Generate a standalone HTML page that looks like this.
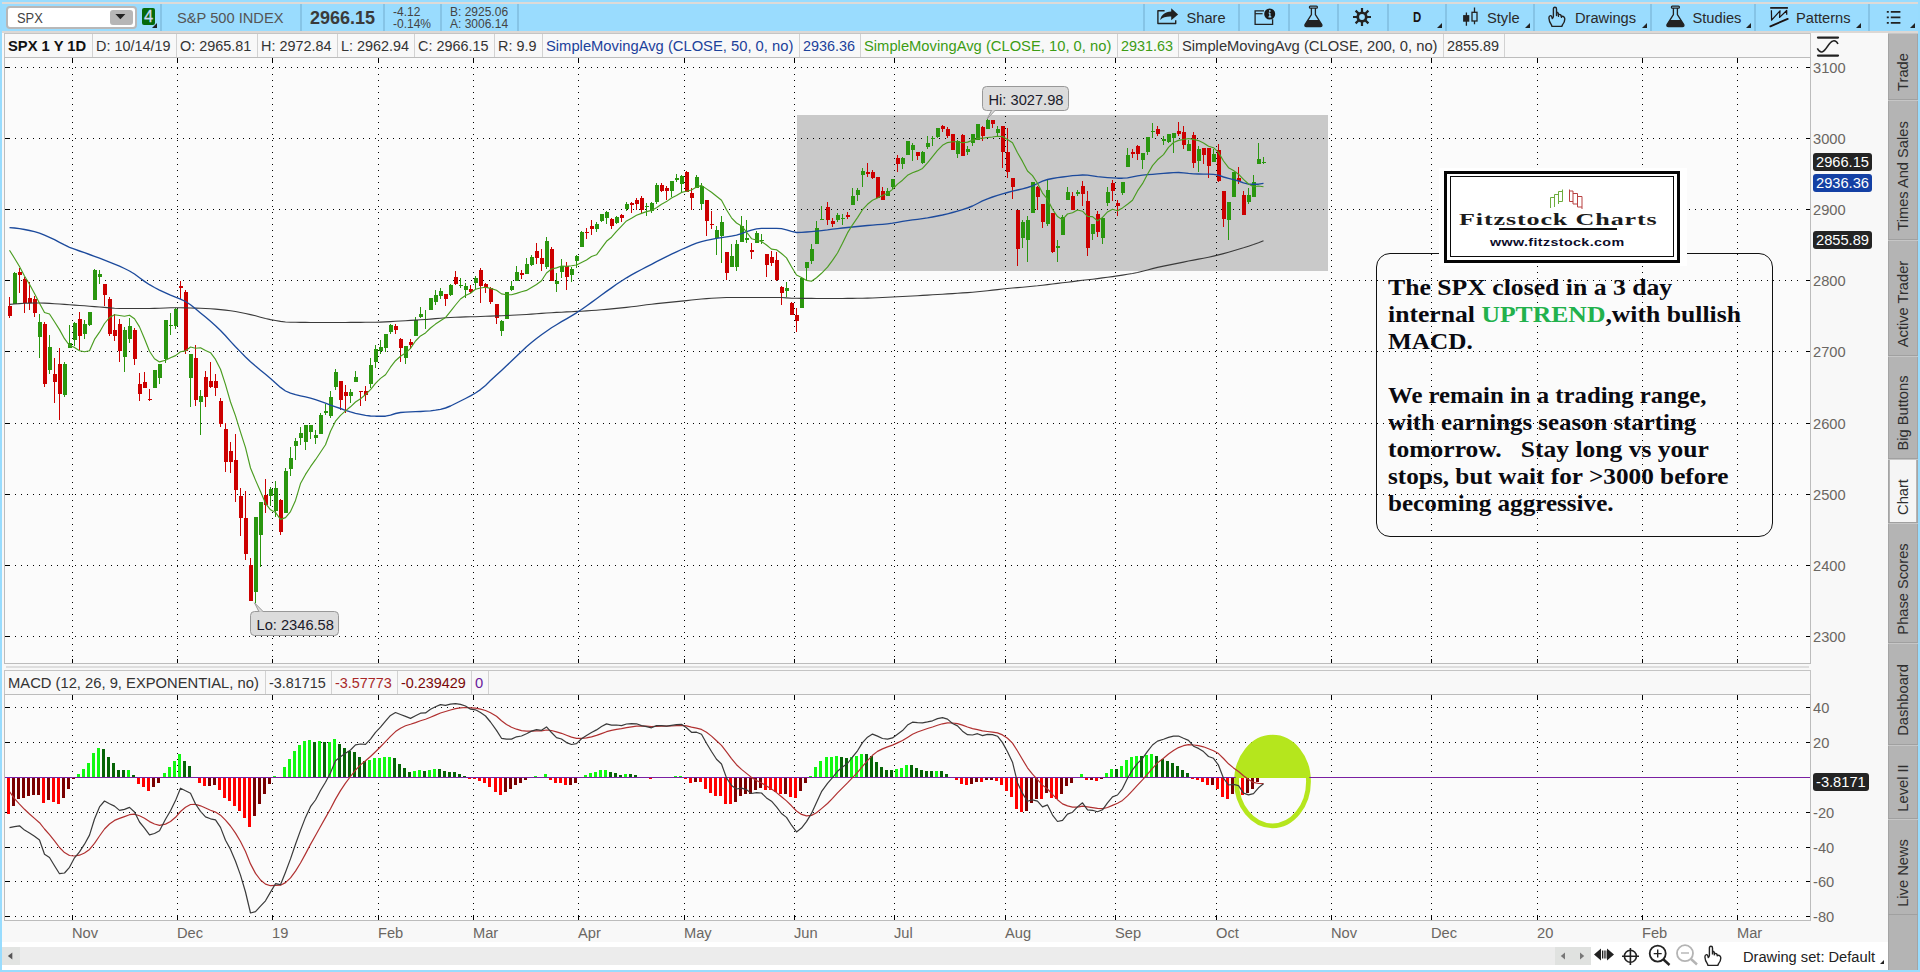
<!DOCTYPE html>
<html><head><meta charset="utf-8"><title>SPX</title>
<style>
*{box-sizing:border-box;margin:0;padding:0}
html,body{width:1920px;height:972px;overflow:hidden}
body{background:#98dcfe;font-family:"Liberation Sans",sans-serif;font-size:14.67px;color:#333;position:relative}
.abs{position:absolute}
#topline{left:2px;top:2px;width:1916px;height:2px;background:#dedad7}
#tbline{left:2px;top:31px;width:1916px;height:2px;background:#dcd8d5}
#toolbar{left:2px;top:4px;width:1916px;height:27px;background:#9adcfe}
.sep{position:absolute;top:4px;width:2px;height:27px;background:#86c4e6}
.tt{position:absolute;top:4.5px;height:27px;line-height:27px;font-size:14.67px;color:#2a2a2a;white-space:nowrap}
.tri{position:absolute;width:0;height:0;border-left:5px solid transparent;border-bottom:5px solid #222;top:23px}
#panel{left:2px;top:33px;width:1886px;height:937px;background:#f8f8f8}
#info{left:4px;top:33px;width:1807px;height:25px;background:#f8f8f8;border:1px solid #c4c4c4}
.cell{position:absolute;top:34px;height:23px;line-height:24.4px;padding-left:3px;border-left:1px solid #d2d2d2;white-space:nowrap;font-size:14.75px;color:#333}
#pbox{left:4px;top:57px;width:1807px;height:607px;background:#fbfbfb;border:1px solid #bcbcbc}
#split{left:6px;top:666px;width:1803px;height:2px;background:#dedede}
#mhead{left:4px;top:670px;width:1807px;height:25px;background:#f8f8f8;border:1px solid #c4c4c4}
#mbox{left:4px;top:694px;width:1807px;height:227px;background:#fbfbfb;border:1px solid #bcbcbc}
.ax{position:absolute;font-size:14.67px;line-height:18px;color:#6a6662;white-space:nowrap}
#bottom{left:2px;top:942px;width:1886px;height:28px;background:#fff}
#scroll{left:2px;top:947px;width:1589px;height:18px;background:#ececec}
#sidebar{left:1888px;top:33px;width:30px;height:937px;background:#b4b4b4;border-left:1.5px solid #a4a4a4;border-right:1.5px solid #a4a4a4}
.tab{position:absolute;left:1888px;width:30px;border-top:1px solid #c6c6c6;border-bottom:1px solid #a0a0a0}
.tab span{position:absolute;left:15px;top:calc(50% + 6px);transform:translate(-50%,-50%) rotate(-90deg);white-space:nowrap;font-size:14.67px;color:#2e2e2e;display:block}
.badge{position:absolute;left:1813px;height:18px;line-height:18px;border-radius:3px;color:#fff;font-size:14.67px;padding-left:3px;white-space:nowrap}
.dot{stroke:#000;stroke-width:1;stroke-dasharray:1 5;fill:none}
.tk{stroke:#000;stroke-width:1;fill:none}
#note{left:1376px;top:253px;width:397px;height:284px;border:1px solid #111;border-radius:14px}
.nl{position:absolute;left:1388px;font-family:"Liberation Serif",serif;font-weight:bold;font-size:23px;line-height:27px;color:#0a0a10;white-space:nowrap;transform-origin:0 0}
.callout{position:absolute;background:#dcdcdc;border:1px solid #989898;border-radius:4.5px;font-size:14.67px;color:#1a1a2a;line-height:22px;height:24.6px;padding-left:5.5px;padding-top:2.4px;white-space:nowrap}
</style></head><body>
<div id="topline" class="abs"></div>
<div id="toolbar" class="abs"></div>
<div id="tbline" class="abs"></div>

<!-- toolbar content -->
<div class="abs" style="left:6px;top:6px;width:131px;height:23px;background:#fff;border:2px solid #b8b8b8;border-radius:4px"></div>
<div class="abs" style="left:17px;top:7px;font-size:15px;line-height:21px;color:#444;transform:scaleX(.86);transform-origin:0 50%">SPX</div>
<div class="abs" style="left:110px;top:10px;width:23px;height:15px;background:#b6b6b6;border-radius:3px"></div>
<svg class="abs" style="left:110px;top:10px" width="23" height="15"><path d="M5.4 4H15.4L10.4 9.2Z" fill="#222"/></svg>
<div class="abs" style="left:142px;top:8px;width:13px;height:17px;background:#05690a;border-radius:2px;color:#ccd8fa;font-weight:normal;font-size:16.5px;line-height:17.5px;text-align:center;overflow:visible;-webkit-text-stroke:.3px #ccd8fa"><span style="display:block;margin-left:-2px;width:17px;text-align:center">4</span></div>
<div class="tri" style="left:152px"></div>
<div class="sep" style="left:160px"></div>
<div class="tt" style="left:177px;color:#555">S&amp;P 500 INDEX</div>
<div class="sep" style="left:300px"></div>
<div class="tt" style="left:310px;font-weight:bold;font-size:18px;color:#3a3a3a">2966.15</div>
<div class="sep" style="left:383px"></div>
<div class="tt" style="left:393px;top:6.3px;height:13px;line-height:13px;font-size:12px;color:#444">-4.12</div>
<div class="tt" style="left:393px;top:18px;height:13px;line-height:13px;font-size:12px;color:#444">-0.14%</div>
<div class="sep" style="left:440px"></div>
<div class="tt" style="left:450px;top:6.3px;height:13px;line-height:13px;font-size:12px;color:#444">B: 2925.06</div>
<div class="tt" style="left:450px;top:18px;height:13px;line-height:13px;font-size:12px;color:#444">A: 3006.14</div>
<div class="sep" style="left:517px"></div>

<div class="sep" style="left:1143px"></div>
<svg class="abs" style="left:1156px;top:7px" width="24" height="20" viewBox="0 0 24 20"><path d="M8.6 3.8H1.9V16.5H19.7V13.2" fill="none" stroke="#222" stroke-width="1.4" stroke-linejoin="round"/><path d="M15.2 1.2L22.1 7.4L15.2 13.2V9.6C10.5 9.4 7 10.3 4.2 13C5 8 9 4.8 15.2 4.5Z" fill="#222"/></svg>
<div class="tt" style="left:1186.5px">Share</div>
<div class="sep" style="left:1238px"></div>
<svg class="abs" style="left:1254px;top:7px" width="24" height="20" viewBox="0 0 24 20"><path d="M10 3.8H1.1V17.3H18.6V12.2" fill="none" stroke="#222" stroke-width="1.3"/><path d="M1.1 6.7H8.6" stroke="#222" stroke-width="1.2"/><circle cx="15.7" cy="7" r="5.5" fill="#1a1a1a"/><path d="M15.9 6V9.8M14.7 6.2H15.9M14.5 9.9H17.3" stroke="#9adcfe" stroke-width="1.2" fill="none"/><circle cx="15.8" cy="3.9" r=".85" fill="#9adcfe"/></svg>
<div class="sep" style="left:1288px"></div>
<svg class="abs flask" style="left:1303px;top:5.1px" width="22" height="23" viewBox="0 0 22 23"><rect x="6.4" y="1.2" width="8" height="1.9" rx=".9" fill="none" stroke="#222" stroke-width="1.2"/><path d="M8.4 3V9.6L2 19.6Q1.4 21.5 3.4 21.5H17.4Q19.4 21.5 18.8 19.6L12.4 9.6V3" fill="none" stroke="#222" stroke-width="1.3" stroke-linejoin="round"/><path d="M5 14.9H15.8L18.8 19.6Q19.4 21.5 17.4 21.5H3.4Q1.4 21.5 2 19.6Z" fill="#222"/></svg>
<div class="sep" style="left:1337px"></div>
<svg class="abs" style="left:1352px;top:7px" width="20" height="20" viewBox="-10 -10 20 20"><g stroke="#222" stroke-width="2.2"><path d="M0 -9V9M-9 0H9M-6.4 -6.4L6.4 6.4M-6.4 6.4L6.4 -6.4"/></g><circle r="5.6" fill="#222"/><circle r="2.9" fill="#9adcfe"/></svg>
<div class="sep" style="left:1387px"></div>
<div class="tt" style="left:1412.6px;top:3.8px;font-weight:bold;font-size:14.2px;color:#1a1212;transform:scaleX(.8);transform-origin:0 50%">D</div>
<div class="tri" style="left:1437px"></div>
<div class="sep" style="left:1445px"></div>
<svg class="abs" style="left:1461px;top:6px" width="18" height="22" viewBox="0 0 18 22"><path d="M5.4 6.6V19.7M13.5 1.5V6.2M13.5 15V18.3" stroke="#222" stroke-width="1.3"/><rect x="2.1" y="9.1" width="6.2" height="6.6" fill="#222"/><rect x="11" y="6.3" width="5" height="8.7" fill="none" stroke="#222" stroke-width="1.3"/></svg>
<div class="tt" style="left:1487px">Style</div>
<div class="tri" style="left:1525px"></div>
<div class="sep" style="left:1533px"></div>
<svg class="abs hand" style="left:1547px;top:6px" width="20" height="22" viewBox="0 0 20 22"><path d="M6.4 10.5V3Q6.4 1.3 7.95 1.3Q9.5 1.3 9.5 3V9.6M9.5 6.4Q10.6 6 11.2 7.2L11.5 10.4M11.4 8.6Q12.8 8 13.8 9L14.5 11.4M14.4 10.6Q15.8 9.9 17 11Q17.8 11.8 17.8 13Q17.8 16 15.6 18.6L14.8 20.4H5L4.4 18.8Q2 15.5 1.9 12Q1.9 9.8 3.4 9.6Q4.6 9.5 4.9 11L5.3 12.6Q6.2 11.8 6.4 10.5" fill="none" stroke="#222" stroke-width="1.4" stroke-linejoin="round" stroke-linecap="round"/></svg>
<div class="tt" style="left:1575px">Drawings</div>
<div class="tri" style="left:1642px"></div>
<div class="sep" style="left:1650px"></div>
<svg class="abs flask" style="left:1664.5px;top:5.1px" width="22" height="23" viewBox="0 0 22 23"><rect x="6.4" y="1.2" width="8" height="1.9" rx=".9" fill="none" stroke="#222" stroke-width="1.2"/><path d="M8.4 3V9.6L2 19.6Q1.4 21.5 3.4 21.5H17.4Q19.4 21.5 18.8 19.6L12.4 9.6V3" fill="none" stroke="#222" stroke-width="1.3" stroke-linejoin="round"/><path d="M5 14.9H15.8L18.8 19.6Q19.4 21.5 17.4 21.5H3.4Q1.4 21.5 2 19.6Z" fill="#222"/></svg>
<div class="tt" style="left:1692.5px">Studies</div>
<div class="tri" style="left:1746px"></div>
<div class="sep" style="left:1754px"></div>
<svg class="abs" style="left:1769px;top:5px" width="20" height="23" viewBox="0 0 20 23"><path d="M1.2 2.9H18.9" stroke="#1a1212" stroke-width="1.7"/><path d="M2.4 5.3L2.6 15.2L11 5.8L10.6 12.4L17.7 5.5V9.7" fill="none" stroke="#1a1212" stroke-width="1.25" stroke-linejoin="round"/><path d="M1.4 21.3L18.7 13.9" stroke="#1a1212" stroke-width="1.9" stroke-linecap="round"/></svg>
<div class="tt" style="left:1796px">Patterns</div>
<div class="tri" style="left:1856px"></div>
<div class="sep" style="left:1868px"></div>
<svg class="abs" style="left:1886px;top:10px" width="16" height="15" viewBox="0 0 16 15"><path d="M.8 1.8H2.8M.8 7.3H2.8M.8 12.8H2.8M4.8 1.8H14.4M4.8 7.3H14.4M4.8 12.8H14.4" stroke="#222" stroke-width="1.7"/></svg>
<div class="tri" style="left:1910px"></div>

<!-- panel -->
<div id="panel" class="abs"></div>
<div id="info" class="abs"></div>
<div class="cell" style="left:4px;font-weight:bold;color:#111;border-left:none;padding-left:4px">SPX 1 Y 1D</div>
<div class="cell" style="left:92px;font-size:14.4px">D: 10/14/19</div>
<div class="cell" style="left:176px;font-size:14.4px">O: 2965.81</div>
<div class="cell" style="left:257px;font-size:14.4px">H: 2972.84</div>
<div class="cell" style="left:337px;font-size:14.4px">L: 2962.94</div>
<div class="cell" style="left:414px;font-size:14.4px">C: 2966.15</div>
<div class="cell" style="left:494px;font-size:14.4px">R: 9.9</div>
<div class="cell" style="left:542px;color:#1b419b">SimpleMovingAvg (CLOSE, 50, 0, no)</div>
<div class="cell" style="left:799px;color:#1b419b;font-size:14.4px">2936.36</div>
<div class="cell" style="left:860px;color:#3c9c14">SimpleMovingAvg (CLOSE, 10, 0, no)</div>
<div class="cell" style="left:1117px;color:#3c9c14;font-size:14.4px">2931.63</div>
<div class="cell" style="left:1178px">SimpleMovingAvg (CLOSE, 200, 0, no)</div>
<div class="cell" style="left:1443px;font-size:14.4px">2855.89</div>
<div class="cell" style="left:1504px"></div>

<div id="pbox" class="abs"></div>
<div id="split" class="abs"></div>
<div id="mhead" class="abs"></div>
<div class="cell" style="left:4px;top:671px;border-left:none;padding-left:4px">MACD (12, 26, 9, EXPONENTIAL, no)</div>
<div class="cell" style="left:265px;top:671px;font-size:14.4px">-3.81715</div>
<div class="cell" style="left:331px;top:671px;color:#a82828;font-size:14.4px">-3.57773</div>
<div class="cell" style="left:397px;top:671px;color:#7a0808;font-size:14.4px">-0.239429</div>
<div class="cell" style="left:471px;top:671px;color:#6a1a9a">0</div>
<div class="cell" style="left:488px;top:671px"></div>
<div id="mbox" class="abs"></div>

<!-- chart graphics -->
<svg class="abs" style="left:0;top:0" width="1920" height="972" viewBox="0 0 1920 972" shape-rendering="crispEdges">
<rect x="797" y="115" width="531" height="156" fill="#c9c9c9"/>
<g>
<path d="M72.5 68V659" class="dot"/><path d="M72.5 58V63M72.5 659V663" class="tk"/>
<path d="M72.5 705V916" class="dot"/><path d="M72.5 695V700M72.5 916V920" class="tk"/>
<path d="M177.5 68V659" class="dot"/><path d="M177.5 58V63M177.5 659V663" class="tk"/>
<path d="M177.5 705V916" class="dot"/><path d="M177.5 695V700M177.5 916V920" class="tk"/>
<path d="M272.5 68V659" class="dot"/><path d="M272.5 58V63M272.5 659V663" class="tk"/>
<path d="M272.5 705V916" class="dot"/><path d="M272.5 695V700M272.5 916V920" class="tk"/>
<path d="M378.5 68V659" class="dot"/><path d="M378.5 58V63M378.5 659V663" class="tk"/>
<path d="M378.5 705V916" class="dot"/><path d="M378.5 695V700M378.5 916V920" class="tk"/>
<path d="M473.5 68V659" class="dot"/><path d="M473.5 58V63M473.5 659V663" class="tk"/>
<path d="M473.5 705V916" class="dot"/><path d="M473.5 695V700M473.5 916V920" class="tk"/>
<path d="M578.5 68V659" class="dot"/><path d="M578.5 58V63M578.5 659V663" class="tk"/>
<path d="M578.5 705V916" class="dot"/><path d="M578.5 695V700M578.5 916V920" class="tk"/>
<path d="M684.5 68V659" class="dot"/><path d="M684.5 58V63M684.5 659V663" class="tk"/>
<path d="M684.5 705V916" class="dot"/><path d="M684.5 695V700M684.5 916V920" class="tk"/>
<path d="M794.5 68V659" class="dot"/><path d="M794.5 58V63M794.5 659V663" class="tk"/>
<path d="M794.5 705V916" class="dot"/><path d="M794.5 695V700M794.5 916V920" class="tk"/>
<path d="M894.5 68V659" class="dot"/><path d="M894.5 58V63M894.5 659V663" class="tk"/>
<path d="M894.5 705V916" class="dot"/><path d="M894.5 695V700M894.5 916V920" class="tk"/>
<path d="M1005.5 68V659" class="dot"/><path d="M1005.5 58V63M1005.5 659V663" class="tk"/>
<path d="M1005.5 705V916" class="dot"/><path d="M1005.5 695V700M1005.5 916V920" class="tk"/>
<path d="M1115.5 68V659" class="dot"/><path d="M1115.5 58V63M1115.5 659V663" class="tk"/>
<path d="M1115.5 705V916" class="dot"/><path d="M1115.5 695V700M1115.5 916V920" class="tk"/>
<path d="M1216.5 68V659" class="dot"/><path d="M1216.5 58V63M1216.5 659V663" class="tk"/>
<path d="M1216.5 705V916" class="dot"/><path d="M1216.5 695V700M1216.5 916V920" class="tk"/>
<path d="M1331.5 68V659" class="dot"/><path d="M1331.5 58V63M1331.5 659V663" class="tk"/>
<path d="M1331.5 705V916" class="dot"/><path d="M1331.5 695V700M1331.5 916V920" class="tk"/>
<path d="M1431.5 68V659" class="dot"/><path d="M1431.5 58V63M1431.5 659V663" class="tk"/>
<path d="M1431.5 705V916" class="dot"/><path d="M1431.5 695V700M1431.5 916V920" class="tk"/>
<path d="M1537.5 68V659" class="dot"/><path d="M1537.5 58V63M1537.5 659V663" class="tk"/>
<path d="M1537.5 705V916" class="dot"/><path d="M1537.5 695V700M1537.5 916V920" class="tk"/>
<path d="M1642.5 68V659" class="dot"/><path d="M1642.5 58V63M1642.5 659V663" class="tk"/>
<path d="M1642.5 705V916" class="dot"/><path d="M1642.5 695V700M1642.5 916V920" class="tk"/>
<path d="M1737.5 68V659" class="dot"/><path d="M1737.5 58V63M1737.5 659V663" class="tk"/>
<path d="M1737.5 705V916" class="dot"/><path d="M1737.5 695V700M1737.5 916V920" class="tk"/>
<path d="M15 67.5H1798" class="dot"/><path d="M5 67.5H10M1806 67.5H1810" class="tk"/>
<path d="M15 138.5H1798" class="dot"/><path d="M5 138.5H10M1806 138.5H1810" class="tk"/>
<path d="M15 209.5H1798" class="dot"/><path d="M5 209.5H10M1806 209.5H1810" class="tk"/>
<path d="M15 280.5H1798" class="dot"/><path d="M5 280.5H10M1806 280.5H1810" class="tk"/>
<path d="M15 351.5H1798" class="dot"/><path d="M5 351.5H10M1806 351.5H1810" class="tk"/>
<path d="M15 423.5H1798" class="dot"/><path d="M5 423.5H10M1806 423.5H1810" class="tk"/>
<path d="M15 494.5H1798" class="dot"/><path d="M5 494.5H10M1806 494.5H1810" class="tk"/>
<path d="M15 565.5H1798" class="dot"/><path d="M5 565.5H10M1806 565.5H1810" class="tk"/>
<path d="M15 636.5H1798" class="dot"/><path d="M5 636.5H10M1806 636.5H1810" class="tk"/>
<path d="M15 707.5H1798" class="dot"/><path d="M5 707.5H10M1806 707.5H1810" class="tk"/>
<path d="M15 742.5H1798" class="dot"/><path d="M5 742.5H10M1806 742.5H1810" class="tk"/>
<path d="M15 812.5H1798" class="dot"/><path d="M5 812.5H10M1806 812.5H1810" class="tk"/>
<path d="M15 847.5H1798" class="dot"/><path d="M5 847.5H10M1806 847.5H1810" class="tk"/>
<path d="M15 881.5H1798" class="dot"/><path d="M5 881.5H10M1806 881.5H1810" class="tk"/>
<path d="M15 916.5H1798" class="dot"/><path d="M5 916.5H10M1806 916.5H1810" class="tk"/>
</g>
<g>
<path d="M9.5 297.0V318.0" stroke="#cc0000" stroke-width="1"/><rect x="8" y="306.0" width="4" height="10.0" fill="#cc0000"/>
<path d="M14.5 272.0V304.0" stroke="#2a960f" stroke-width="1"/><rect x="13" y="273.0" width="4" height="31.0" fill="#2a960f"/>
<path d="M19.5 268.0V293.0" stroke="#cc0000" stroke-width="1"/><rect x="18" y="272.0" width="4" height="3.0" fill="#cc0000"/>
<path d="M24.5 277.0V313.0" stroke="#cc0000" stroke-width="1"/><rect x="23" y="279.0" width="4" height="24.0" fill="#cc0000"/>
<path d="M29.5 282.0V310.0" stroke="#cc0000" stroke-width="1"/><rect x="28" y="298.0" width="4" height="5.0" fill="#cc0000"/>
<path d="M34.5 296.0V317.0" stroke="#cc0000" stroke-width="1"/><rect x="33" y="299.0" width="4" height="14.0" fill="#cc0000"/>
<path d="M39.5 314.0V358.0" stroke="#2a960f" stroke-width="1"/><rect x="38" y="322.0" width="4" height="15.0" fill="#2a960f"/>
<path d="M44.5 322.0V387.0" stroke="#cc0000" stroke-width="1"/><rect x="43" y="324.0" width="4" height="60.0" fill="#cc0000"/>
<path d="M49.5 335.0V374.0" stroke="#2a960f" stroke-width="1"/><rect x="48" y="347.0" width="4" height="23.0" fill="#2a960f"/>
<path d="M54.5 358.0V403.0" stroke="#cc0000" stroke-width="1"/><rect x="53" y="374.0" width="4" height="8.0" fill="#cc0000"/>
<path d="M59.5 348.0V420.0" stroke="#cc0000" stroke-width="1"/><rect x="58" y="364.0" width="4" height="30.0" fill="#cc0000"/>
<path d="M64.5 362.0V397.0" stroke="#2a960f" stroke-width="1"/><rect x="63" y="364.0" width="4" height="31.0" fill="#2a960f"/>
<path d="M69.5 325.0V348.0" stroke="#2a960f" stroke-width="1"/><rect x="68" y="343.0" width="4" height="5.0" fill="#2a960f"/>
<path d="M74.5 322.0V346.0" stroke="#2a960f" stroke-width="1"/><rect x="73" y="323.0" width="4" height="17.0" fill="#2a960f"/>
<path d="M79.5 312.0V350.0" stroke="#cc0000" stroke-width="1"/><rect x="78" y="319.0" width="4" height="17.0" fill="#cc0000"/>
<path d="M84.5 320.0V339.0" stroke="#2a960f" stroke-width="1"/><rect x="83" y="324.0" width="4" height="10.0" fill="#2a960f"/>
<path d="M89.5 312.0V326.0" stroke="#2a960f" stroke-width="1"/><rect x="88" y="312.0" width="4" height="13.0" fill="#2a960f"/>
<path d="M94.5 269.0V300.0" stroke="#2a960f" stroke-width="1"/><rect x="93" y="270.0" width="4" height="30.0" fill="#2a960f"/>
<path d="M99.5 270.0V284.0" stroke="#2a960f" stroke-width="1"/><rect x="98" y="274.0" width="4" height="3.0" fill="#2a960f"/>
<path d="M104.5 284.0V306.0" stroke="#cc0000" stroke-width="1"/><rect x="103" y="284.0" width="4" height="11.0" fill="#cc0000"/>
<path d="M109.5 297.0V336.0" stroke="#cc0000" stroke-width="1"/><rect x="108" y="299.0" width="4" height="35.0" fill="#cc0000"/>
<path d="M114.5 314.0V341.0" stroke="#cc0000" stroke-width="1"/><rect x="113" y="330.0" width="4" height="6.0" fill="#cc0000"/>
<path d="M119.5 319.0V362.0" stroke="#cc0000" stroke-width="1"/><rect x="118" y="324.0" width="4" height="27.0" fill="#cc0000"/>
<path d="M124.5 327.0V372.0" stroke="#2a960f" stroke-width="1"/><rect x="123" y="330.0" width="4" height="27.0" fill="#2a960f"/>
<path d="M129.5 318.0V343.0" stroke="#2a960f" stroke-width="1"/><rect x="128" y="326.0" width="4" height="13.0" fill="#2a960f"/>
<path d="M134.5 328.0V365.0" stroke="#cc0000" stroke-width="1"/><rect x="133" y="330.0" width="4" height="29.0" fill="#cc0000"/>
<path d="M139.5 373.0V401.0" stroke="#cc0000" stroke-width="1"/><rect x="138" y="384.0" width="4" height="10.0" fill="#cc0000"/>
<path d="M144.5 372.0V388.0" stroke="#cc0000" stroke-width="1"/><rect x="143" y="382.0" width="4" height="6.0" fill="#cc0000"/>
<path d="M149.5 389.0V401.0" stroke="#cc0000" stroke-width="1"/><rect x="148" y="399.0" width="4" height="1.0" fill="#cc0000"/>
<path d="M154.5 370.0V388.0" stroke="#2a960f" stroke-width="1"/><rect x="153" y="370.0" width="4" height="18.0" fill="#2a960f"/>
<path d="M159.5 364.0V384.0" stroke="#2a960f" stroke-width="1"/><rect x="158" y="364.0" width="4" height="14.0" fill="#2a960f"/>
<path d="M165.5 320.0V363.0" stroke="#2a960f" stroke-width="1"/><rect x="164" y="320.0" width="4" height="39.0" fill="#2a960f"/>
<path d="M170.5 313.0V335.0" stroke="#2a960f" stroke-width="1"/><rect x="169" y="325.0" width="4" height="1.0" fill="#2a960f"/>
<path d="M175.5 308.0V329.0" stroke="#2a960f" stroke-width="1"/><rect x="174" y="309.0" width="4" height="17.0" fill="#2a960f"/>
<path d="M180.5 281.0V299.0" stroke="#cc0000" stroke-width="1"/><rect x="179" y="286.0" width="4" height="2.0" fill="#cc0000"/>
<path d="M185.5 290.0V354.0" stroke="#cc0000" stroke-width="1"/><rect x="184" y="292.0" width="4" height="59.0" fill="#cc0000"/>
<path d="M190.5 354.0V407.0" stroke="#2a960f" stroke-width="1"/><rect x="189" y="354.0" width="4" height="24.0" fill="#2a960f"/>
<path d="M195.5 345.0V406.0" stroke="#cc0000" stroke-width="1"/><rect x="194" y="358.0" width="4" height="42.0" fill="#cc0000"/>
<path d="M200.5 390.0V435.0" stroke="#2a960f" stroke-width="1"/><rect x="199" y="396.0" width="4" height="6.0" fill="#2a960f"/>
<path d="M205.5 371.0V407.0" stroke="#cc0000" stroke-width="1"/><rect x="204" y="377.0" width="4" height="20.0" fill="#cc0000"/>
<path d="M210.5 362.0V388.0" stroke="#cc0000" stroke-width="1"/><rect x="209" y="381.0" width="4" height="6.0" fill="#cc0000"/>
<path d="M215.5 374.0V396.0" stroke="#cc0000" stroke-width="1"/><rect x="214" y="381.0" width="4" height="7.0" fill="#cc0000"/>
<path d="M220.5 398.0V427.0" stroke="#cc0000" stroke-width="1"/><rect x="219" y="401.0" width="4" height="23.0" fill="#cc0000"/>
<path d="M225.5 423.0V472.0" stroke="#cc0000" stroke-width="1"/><rect x="224" y="429.0" width="4" height="33.0" fill="#cc0000"/>
<path d="M230.5 442.0V473.0" stroke="#cc0000" stroke-width="1"/><rect x="229" y="451.0" width="4" height="11.0" fill="#cc0000"/>
<path d="M235.5 434.0V502.0" stroke="#cc0000" stroke-width="1"/><rect x="234" y="460.0" width="4" height="30.0" fill="#cc0000"/>
<path d="M240.5 488.0V536.0" stroke="#cc0000" stroke-width="1"/><rect x="239" y="496.0" width="4" height="22.0" fill="#cc0000"/>
<path d="M245.5 491.0V560.0" stroke="#cc0000" stroke-width="1"/><rect x="244" y="518.0" width="4" height="36.0" fill="#cc0000"/>
<path d="M250.5 558.0V601.0" stroke="#cc0000" stroke-width="1"/><rect x="249" y="565.0" width="4" height="36.0" fill="#cc0000"/>
<path d="M255.5 517.0V603.0" stroke="#2a960f" stroke-width="1"/><rect x="254" y="517.0" width="4" height="75.0" fill="#2a960f"/>
<path d="M260.5 502.0V567.0" stroke="#2a960f" stroke-width="1"/><rect x="259" y="502.0" width="4" height="33.0" fill="#2a960f"/>
<path d="M265.5 479.0V513.0" stroke="#cc0000" stroke-width="1"/><rect x="264" y="495.0" width="4" height="10.0" fill="#cc0000"/>
<path d="M270.5 487.0V506.0" stroke="#2a960f" stroke-width="1"/><rect x="269" y="489.0" width="4" height="7.0" fill="#2a960f"/>
<path d="M275.5 481.0V517.0" stroke="#2a960f" stroke-width="1"/><rect x="274" y="488.0" width="4" height="23.0" fill="#2a960f"/>
<path d="M280.5 499.0V535.0" stroke="#cc0000" stroke-width="1"/><rect x="279" y="500.0" width="4" height="32.0" fill="#cc0000"/>
<path d="M285.5 468.0V513.0" stroke="#2a960f" stroke-width="1"/><rect x="284" y="471.0" width="4" height="42.0" fill="#2a960f"/>
<path d="M290.5 447.0V476.0" stroke="#2a960f" stroke-width="1"/><rect x="289" y="458.0" width="4" height="11.0" fill="#2a960f"/>
<path d="M295.5 438.0V460.0" stroke="#2a960f" stroke-width="1"/><rect x="294" y="441.0" width="4" height="5.0" fill="#2a960f"/>
<path d="M300.5 427.0V445.0" stroke="#2a960f" stroke-width="1"/><rect x="299" y="433.0" width="4" height="5.0" fill="#2a960f"/>
<path d="M305.5 425.0V450.0" stroke="#2a960f" stroke-width="1"/><rect x="304" y="425.0" width="4" height="17.0" fill="#2a960f"/>
<path d="M310.5 425.0V439.0" stroke="#2a960f" stroke-width="1"/><rect x="309" y="425.0" width="4" height="7.0" fill="#2a960f"/>
<path d="M315.5 430.0V444.0" stroke="#2a960f" stroke-width="1"/><rect x="314" y="435.0" width="4" height="3.0" fill="#2a960f"/>
<path d="M320.5 413.0V434.0" stroke="#2a960f" stroke-width="1"/><rect x="319" y="415.0" width="4" height="19.0" fill="#2a960f"/>
<path d="M325.5 404.0V415.0" stroke="#2a960f" stroke-width="1"/><rect x="324" y="411.0" width="4" height="2.0" fill="#2a960f"/>
<path d="M330.5 391.0V418.0" stroke="#2a960f" stroke-width="1"/><rect x="329" y="397.0" width="4" height="19.0" fill="#2a960f"/>
<path d="M335.5 369.0V390.0" stroke="#2a960f" stroke-width="1"/><rect x="334" y="372.0" width="4" height="15.0" fill="#2a960f"/>
<path d="M340.5 381.0V410.0" stroke="#cc0000" stroke-width="1"/><rect x="339" y="381.0" width="4" height="19.0" fill="#cc0000"/>
<path d="M345.5 385.0V413.0" stroke="#cc0000" stroke-width="1"/><rect x="344" y="392.0" width="4" height="4.0" fill="#cc0000"/>
<path d="M350.5 389.0V403.0" stroke="#2a960f" stroke-width="1"/><rect x="349" y="392.0" width="4" height="4.0" fill="#2a960f"/>
<path d="M355.5 371.0V382.0" stroke="#2a960f" stroke-width="1"/><rect x="354" y="377.0" width="4" height="5.0" fill="#2a960f"/>
<path d="M360.5 391.0V406.0" stroke="#cc0000" stroke-width="1"/><rect x="359" y="391.0" width="4" height="1.0" fill="#cc0000"/>
<path d="M365.5 386.0V401.0" stroke="#cc0000" stroke-width="1"/><rect x="364" y="391.0" width="4" height="4.0" fill="#cc0000"/>
<path d="M370.5 358.0V388.0" stroke="#2a960f" stroke-width="1"/><rect x="369" y="365.0" width="4" height="19.0" fill="#2a960f"/>
<path d="M375.5 345.0V368.0" stroke="#2a960f" stroke-width="1"/><rect x="374" y="349.0" width="4" height="13.0" fill="#2a960f"/>
<path d="M380.5 340.0V354.0" stroke="#2a960f" stroke-width="1"/><rect x="379" y="347.0" width="4" height="4.0" fill="#2a960f"/>
<path d="M385.5 334.0V352.0" stroke="#2a960f" stroke-width="1"/><rect x="384" y="334.0" width="4" height="14.0" fill="#2a960f"/>
<path d="M390.5 324.0V334.0" stroke="#2a960f" stroke-width="1"/><rect x="389" y="325.0" width="4" height="7.0" fill="#2a960f"/>
<path d="M395.5 324.0V334.0" stroke="#cc0000" stroke-width="1"/><rect x="394" y="326.0" width="4" height="4.0" fill="#cc0000"/>
<path d="M400.5 338.0V362.0" stroke="#cc0000" stroke-width="1"/><rect x="399" y="339.0" width="4" height="9.0" fill="#cc0000"/>
<path d="M405.5 346.0V364.0" stroke="#2a960f" stroke-width="1"/><rect x="404" y="346.0" width="4" height="12.0" fill="#2a960f"/>
<path d="M410.5 339.0V349.0" stroke="#cc0000" stroke-width="1"/><rect x="409" y="342.0" width="4" height="3.0" fill="#cc0000"/>
<path d="M415.5 317.0V336.0" stroke="#2a960f" stroke-width="1"/><rect x="414" y="320.0" width="4" height="16.0" fill="#2a960f"/>
<path d="M420.5 307.0V318.0" stroke="#2a960f" stroke-width="1"/><rect x="419" y="314.0" width="4" height="3.0" fill="#2a960f"/>
<path d="M425.5 310.0V329.0" stroke="#2a960f" stroke-width="1"/><rect x="424" y="319.0" width="4" height="1.0" fill="#2a960f"/>
<path d="M430.5 298.0V310.0" stroke="#2a960f" stroke-width="1"/><rect x="429" y="298.0" width="4" height="12.0" fill="#2a960f"/>
<path d="M435.5 290.0V305.0" stroke="#2a960f" stroke-width="1"/><rect x="434" y="295.0" width="4" height="7.0" fill="#2a960f"/>
<path d="M440.5 288.0V299.0" stroke="#2a960f" stroke-width="1"/><rect x="439" y="291.0" width="4" height="5.0" fill="#2a960f"/>
<path d="M445.5 294.0V306.0" stroke="#cc0000" stroke-width="1"/><rect x="444" y="294.0" width="4" height="5.0" fill="#cc0000"/>
<path d="M450.5 284.0V296.0" stroke="#2a960f" stroke-width="1"/><rect x="449" y="285.0" width="4" height="10.0" fill="#2a960f"/>
<path d="M455.5 271.0V285.0" stroke="#cc0000" stroke-width="1"/><rect x="454" y="277.0" width="4" height="7.0" fill="#cc0000"/>
<path d="M460.5 278.0V288.0" stroke="#2a960f" stroke-width="1"/><rect x="459" y="285.0" width="4" height="1.0" fill="#2a960f"/>
<path d="M465.5 283.0V298.0" stroke="#2a960f" stroke-width="1"/><rect x="464" y="286.0" width="4" height="4.0" fill="#2a960f"/>
<path d="M470.5 285.0V293.0" stroke="#cc0000" stroke-width="1"/><rect x="469" y="289.0" width="4" height="3.0" fill="#cc0000"/>
<path d="M475.5 276.0V289.0" stroke="#2a960f" stroke-width="1"/><rect x="474" y="278.0" width="4" height="5.0" fill="#2a960f"/>
<path d="M480.5 268.0V303.0" stroke="#cc0000" stroke-width="1"/><rect x="479" y="270.0" width="4" height="16.0" fill="#cc0000"/>
<path d="M485.5 283.0V293.0" stroke="#cc0000" stroke-width="1"/><rect x="484" y="284.0" width="4" height="4.0" fill="#cc0000"/>
<path d="M490.5 287.0V304.0" stroke="#cc0000" stroke-width="1"/><rect x="489" y="288.0" width="4" height="14.0" fill="#cc0000"/>
<path d="M496.5 304.0V324.0" stroke="#cc0000" stroke-width="1"/><rect x="495" y="304.0" width="4" height="14.0" fill="#cc0000"/>
<path d="M501.5 320.0V336.0" stroke="#2a960f" stroke-width="1"/><rect x="500" y="321.0" width="4" height="10.0" fill="#2a960f"/>
<path d="M506.5 292.0V319.0" stroke="#2a960f" stroke-width="1"/><rect x="505" y="292.0" width="4" height="27.0" fill="#2a960f"/>
<path d="M511.5 281.0V291.0" stroke="#2a960f" stroke-width="1"/><rect x="510" y="286.0" width="4" height="4.0" fill="#2a960f"/>
<path d="M516.5 266.0V281.0" stroke="#2a960f" stroke-width="1"/><rect x="515" y="272.0" width="4" height="9.0" fill="#2a960f"/>
<path d="M521.5 270.0V279.0" stroke="#cc0000" stroke-width="1"/><rect x="520" y="273.0" width="4" height="2.0" fill="#cc0000"/>
<path d="M526.5 258.0V274.0" stroke="#2a960f" stroke-width="1"/><rect x="525" y="264.0" width="4" height="10.0" fill="#2a960f"/>
<path d="M531.5 255.0V266.0" stroke="#2a960f" stroke-width="1"/><rect x="530" y="257.0" width="4" height="8.0" fill="#2a960f"/>
<path d="M536.5 243.0V264.0" stroke="#cc0000" stroke-width="1"/><rect x="535" y="251.0" width="4" height="7.0" fill="#cc0000"/>
<path d="M541.5 249.0V271.0" stroke="#cc0000" stroke-width="1"/><rect x="540" y="258.0" width="4" height="6.0" fill="#cc0000"/>
<path d="M546.5 237.0V269.0" stroke="#2a960f" stroke-width="1"/><rect x="545" y="241.0" width="4" height="26.0" fill="#2a960f"/>
<path d="M551.5 247.0V281.0" stroke="#cc0000" stroke-width="1"/><rect x="550" y="249.0" width="4" height="32.0" fill="#cc0000"/>
<path d="M556.5 273.0V292.0" stroke="#2a960f" stroke-width="1"/><rect x="555" y="281.0" width="4" height="3.0" fill="#2a960f"/>
<path d="M561.5 259.0V278.0" stroke="#2a960f" stroke-width="1"/><rect x="560" y="266.0" width="4" height="6.0" fill="#2a960f"/>
<path d="M566.5 262.0V290.0" stroke="#cc0000" stroke-width="1"/><rect x="565" y="266.0" width="4" height="11.0" fill="#cc0000"/>
<path d="M571.5 267.0V282.0" stroke="#2a960f" stroke-width="1"/><rect x="570" y="269.0" width="4" height="6.0" fill="#2a960f"/>
<path d="M576.5 255.0V268.0" stroke="#2a960f" stroke-width="1"/><rect x="575" y="256.0" width="4" height="5.0" fill="#2a960f"/>
<path d="M581.5 231.0V247.0" stroke="#2a960f" stroke-width="1"/><rect x="580" y="232.0" width="4" height="15.0" fill="#2a960f"/>
<path d="M586.5 228.0V239.0" stroke="#cc0000" stroke-width="1"/><rect x="585" y="232.0" width="4" height="1.0" fill="#cc0000"/>
<path d="M591.5 220.0V235.0" stroke="#cc0000" stroke-width="1"/><rect x="590" y="226.0" width="4" height="3.0" fill="#cc0000"/>
<path d="M596.5 222.0V232.0" stroke="#2a960f" stroke-width="1"/><rect x="595" y="224.0" width="4" height="5.0" fill="#2a960f"/>
<path d="M601.5 214.0V222.0" stroke="#2a960f" stroke-width="1"/><rect x="600" y="214.0" width="4" height="7.0" fill="#2a960f"/>
<path d="M606.5 211.0V224.0" stroke="#2a960f" stroke-width="1"/><rect x="605" y="212.0" width="4" height="6.0" fill="#2a960f"/>
<path d="M611.5 218.0V229.0" stroke="#cc0000" stroke-width="1"/><rect x="610" y="219.0" width="4" height="7.0" fill="#cc0000"/>
<path d="M616.5 216.0V224.0" stroke="#2a960f" stroke-width="1"/><rect x="615" y="217.0" width="4" height="6.0" fill="#2a960f"/>
<path d="M621.5 214.0V222.0" stroke="#cc0000" stroke-width="1"/><rect x="620" y="215.0" width="4" height="3.0" fill="#cc0000"/>
<path d="M626.5 202.0V211.0" stroke="#2a960f" stroke-width="1"/><rect x="625" y="204.0" width="4" height="5.0" fill="#2a960f"/>
<path d="M631.5 202.0V213.0" stroke="#cc0000" stroke-width="1"/><rect x="630" y="203.0" width="4" height="2.0" fill="#cc0000"/>
<path d="M636.5 198.0V210.0" stroke="#cc0000" stroke-width="1"/><rect x="635" y="200.0" width="4" height="4.0" fill="#cc0000"/>
<path d="M641.5 196.0V213.0" stroke="#cc0000" stroke-width="1"/><rect x="640" y="198.0" width="4" height="12.0" fill="#cc0000"/>
<path d="M646.5 203.0V216.0" stroke="#2a960f" stroke-width="1"/><rect x="645" y="206.0" width="4" height="1.0" fill="#2a960f"/>
<path d="M651.5 202.0V213.0" stroke="#2a960f" stroke-width="1"/><rect x="650" y="203.0" width="4" height="8.0" fill="#2a960f"/>
<path d="M656.5 183.0V204.0" stroke="#2a960f" stroke-width="1"/><rect x="655" y="185.0" width="4" height="17.0" fill="#2a960f"/>
<path d="M661.5 183.0V192.0" stroke="#cc0000" stroke-width="1"/><rect x="660" y="185.0" width="4" height="6.0" fill="#cc0000"/>
<path d="M666.5 186.0V200.0" stroke="#cc0000" stroke-width="1"/><rect x="665" y="188.0" width="4" height="3.0" fill="#cc0000"/>
<path d="M671.5 181.0V197.0" stroke="#2a960f" stroke-width="1"/><rect x="670" y="181.0" width="4" height="10.0" fill="#2a960f"/>
<path d="M676.5 174.0V182.0" stroke="#2a960f" stroke-width="1"/><rect x="675" y="178.0" width="4" height="2.0" fill="#2a960f"/>
<path d="M681.5 175.0V192.0" stroke="#2a960f" stroke-width="1"/><rect x="680" y="176.0" width="4" height="8.0" fill="#2a960f"/>
<path d="M686.5 171.0V192.0" stroke="#cc0000" stroke-width="1"/><rect x="685" y="172.0" width="4" height="20.0" fill="#cc0000"/>
<path d="M691.5 188.0V210.0" stroke="#cc0000" stroke-width="1"/><rect x="690" y="193.0" width="4" height="5.0" fill="#cc0000"/>
<path d="M696.5 175.0V188.0" stroke="#2a960f" stroke-width="1"/><rect x="695" y="177.0" width="4" height="11.0" fill="#2a960f"/>
<path d="M701.5 183.0V210.0" stroke="#2a960f" stroke-width="1"/><rect x="700" y="186.0" width="4" height="18.0" fill="#2a960f"/>
<path d="M706.5 200.0V236.0" stroke="#cc0000" stroke-width="1"/><rect x="705" y="200.0" width="4" height="21.0" fill="#cc0000"/>
<path d="M711.5 211.0V229.0" stroke="#cc0000" stroke-width="1"/><rect x="710" y="224.0" width="4" height="1.0" fill="#cc0000"/>
<path d="M716.5 226.0V255.0" stroke="#2a960f" stroke-width="1"/><rect x="715" y="230.0" width="4" height="8.0" fill="#2a960f"/>
<path d="M721.5 216.0V263.0" stroke="#2a960f" stroke-width="1"/><rect x="720" y="222.0" width="4" height="14.0" fill="#2a960f"/>
<path d="M726.5 252.0V280.0" stroke="#cc0000" stroke-width="1"/><rect x="725" y="252.0" width="4" height="21.0" fill="#cc0000"/>
<path d="M731.5 244.0V267.0" stroke="#2a960f" stroke-width="1"/><rect x="730" y="256.0" width="4" height="11.0" fill="#2a960f"/>
<path d="M736.5 240.0V271.0" stroke="#2a960f" stroke-width="1"/><rect x="735" y="244.0" width="4" height="23.0" fill="#2a960f"/>
<path d="M741.5 216.0V242.0" stroke="#2a960f" stroke-width="1"/><rect x="740" y="226.0" width="4" height="16.0" fill="#2a960f"/>
<path d="M746.5 220.0V243.0" stroke="#2a960f" stroke-width="1"/><rect x="745" y="238.0" width="4" height="2.0" fill="#2a960f"/>
<path d="M751.5 243.0V259.0" stroke="#cc0000" stroke-width="1"/><rect x="750" y="250.0" width="4" height="2.0" fill="#cc0000"/>
<path d="M756.5 231.0V243.0" stroke="#2a960f" stroke-width="1"/><rect x="755" y="233.0" width="4" height="10.0" fill="#2a960f"/>
<path d="M761.5 234.0V244.0" stroke="#2a960f" stroke-width="1"/><rect x="760" y="240.0" width="4" height="1.0" fill="#2a960f"/>
<path d="M766.5 254.0V277.0" stroke="#cc0000" stroke-width="1"/><rect x="765" y="254.0" width="4" height="11.0" fill="#cc0000"/>
<path d="M771.5 251.0V266.0" stroke="#cc0000" stroke-width="1"/><rect x="770" y="257.0" width="4" height="6.0" fill="#cc0000"/>
<path d="M776.5 252.0V281.0" stroke="#cc0000" stroke-width="1"/><rect x="775" y="260.0" width="4" height="20.0" fill="#cc0000"/>
<path d="M781.5 286.0V305.0" stroke="#cc0000" stroke-width="1"/><rect x="780" y="287.0" width="4" height="6.0" fill="#cc0000"/>
<path d="M786.5 282.0V297.0" stroke="#2a960f" stroke-width="1"/><rect x="785" y="288.0" width="4" height="3.0" fill="#2a960f"/>
<path d="M791.5 302.0V315.0" stroke="#cc0000" stroke-width="1"/><rect x="790" y="303.0" width="4" height="12.0" fill="#cc0000"/>
<path d="M796.5 308.0V332.0" stroke="#cc0000" stroke-width="1"/><rect x="795" y="315.0" width="4" height="6.0" fill="#cc0000"/>
<path d="M801.5 277.0V308.0" stroke="#2a960f" stroke-width="1"/><rect x="800" y="278.0" width="4" height="30.0" fill="#2a960f"/>
<path d="M806.5 262.0V280.0" stroke="#2a960f" stroke-width="1"/><rect x="805" y="262.0" width="4" height="6.0" fill="#2a960f"/>
<path d="M811.5 244.0V264.0" stroke="#2a960f" stroke-width="1"/><rect x="810" y="249.0" width="4" height="12.0" fill="#2a960f"/>
<path d="M816.5 221.0V244.0" stroke="#2a960f" stroke-width="1"/><rect x="815" y="228.0" width="4" height="16.0" fill="#2a960f"/>
<path d="M821.5 206.0V220.0" stroke="#2a960f" stroke-width="1"/><rect x="820" y="219.0" width="4" height="1.0" fill="#2a960f"/>
<path d="M827.5 202.0V225.0" stroke="#cc0000" stroke-width="1"/><rect x="826" y="207.0" width="4" height="13.0" fill="#cc0000"/>
<path d="M832.5 218.0V227.0" stroke="#cc0000" stroke-width="1"/><rect x="831" y="221.0" width="4" height="3.0" fill="#cc0000"/>
<path d="M837.5 213.0V222.0" stroke="#2a960f" stroke-width="1"/><rect x="836" y="215.0" width="4" height="5.0" fill="#2a960f"/>
<path d="M842.5 214.0V225.0" stroke="#2a960f" stroke-width="1"/><rect x="841" y="218.0" width="4" height="1.0" fill="#2a960f"/>
<path d="M847.5 212.0V219.0" stroke="#cc0000" stroke-width="1"/><rect x="846" y="215.0" width="4" height="2.0" fill="#cc0000"/>
<path d="M852.5 188.0V205.0" stroke="#2a960f" stroke-width="1"/><rect x="851" y="196.0" width="4" height="9.0" fill="#2a960f"/>
<path d="M857.5 188.0V201.0" stroke="#2a960f" stroke-width="1"/><rect x="856" y="190.0" width="4" height="5.0" fill="#2a960f"/>
<path d="M862.5 168.0V187.0" stroke="#2a960f" stroke-width="1"/><rect x="861" y="171.0" width="4" height="4.0" fill="#2a960f"/>
<path d="M867.5 163.0V177.0" stroke="#cc0000" stroke-width="1"/><rect x="866" y="172.0" width="4" height="2.0" fill="#cc0000"/>
<path d="M872.5 170.0V179.0" stroke="#cc0000" stroke-width="1"/><rect x="871" y="172.0" width="4" height="6.0" fill="#cc0000"/>
<path d="M877.5 177.0V198.0" stroke="#cc0000" stroke-width="1"/><rect x="876" y="177.0" width="4" height="21.0" fill="#cc0000"/>
<path d="M882.5 187.0V200.0" stroke="#cc0000" stroke-width="1"/><rect x="881" y="191.0" width="4" height="9.0" fill="#cc0000"/>
<path d="M887.5 188.0V196.0" stroke="#2a960f" stroke-width="1"/><rect x="886" y="191.0" width="4" height="5.0" fill="#2a960f"/>
<path d="M892.5 179.0V189.0" stroke="#2a960f" stroke-width="1"/><rect x="891" y="179.0" width="4" height="8.0" fill="#2a960f"/>
<path d="M897.5 155.0V172.0" stroke="#cc0000" stroke-width="1"/><rect x="896" y="158.0" width="4" height="6.0" fill="#cc0000"/>
<path d="M902.5 157.0V169.0" stroke="#2a960f" stroke-width="1"/><rect x="901" y="158.0" width="4" height="6.0" fill="#2a960f"/>
<path d="M907.5 141.0V155.0" stroke="#2a960f" stroke-width="1"/><rect x="906" y="141.0" width="4" height="14.0" fill="#2a960f"/>
<path d="M912.5 143.0V161.0" stroke="#2a960f" stroke-width="1"/><rect x="911" y="145.0" width="4" height="5.0" fill="#2a960f"/>
<path d="M917.5 152.0V160.0" stroke="#cc0000" stroke-width="1"/><rect x="916" y="152.0" width="4" height="4.0" fill="#cc0000"/>
<path d="M922.5 151.0V164.0" stroke="#2a960f" stroke-width="1"/><rect x="921" y="152.0" width="4" height="11.0" fill="#2a960f"/>
<path d="M927.5 136.0V149.0" stroke="#2a960f" stroke-width="1"/><rect x="926" y="143.0" width="4" height="4.0" fill="#2a960f"/>
<path d="M932.5 136.0V146.0" stroke="#2a960f" stroke-width="1"/><rect x="931" y="138.0" width="4" height="1.0" fill="#2a960f"/>
<path d="M937.5 128.0V138.0" stroke="#2a960f" stroke-width="1"/><rect x="936" y="128.0" width="4" height="9.0" fill="#2a960f"/>
<path d="M942.5 125.0V132.0" stroke="#cc0000" stroke-width="1"/><rect x="941" y="126.0" width="4" height="3.0" fill="#cc0000"/>
<path d="M947.5 127.0V138.0" stroke="#cc0000" stroke-width="1"/><rect x="946" y="129.0" width="4" height="7.0" fill="#cc0000"/>
<path d="M952.5 134.0V150.0" stroke="#cc0000" stroke-width="1"/><rect x="951" y="134.0" width="4" height="16.0" fill="#cc0000"/>
<path d="M957.5 140.0V158.0" stroke="#2a960f" stroke-width="1"/><rect x="956" y="141.0" width="4" height="13.0" fill="#2a960f"/>
<path d="M962.5 134.0V156.0" stroke="#cc0000" stroke-width="1"/><rect x="961" y="135.0" width="4" height="21.0" fill="#cc0000"/>
<path d="M967.5 146.0V155.0" stroke="#2a960f" stroke-width="1"/><rect x="966" y="149.0" width="4" height="3.0" fill="#2a960f"/>
<path d="M972.5 134.0V146.0" stroke="#2a960f" stroke-width="1"/><rect x="971" y="134.0" width="4" height="9.0" fill="#2a960f"/>
<path d="M977.5 124.0V140.0" stroke="#2a960f" stroke-width="1"/><rect x="976" y="124.0" width="4" height="16.0" fill="#2a960f"/>
<path d="M982.5 126.0V141.0" stroke="#cc0000" stroke-width="1"/><rect x="981" y="127.0" width="4" height="9.0" fill="#cc0000"/>
<path d="M987.5 119.0V129.0" stroke="#2a960f" stroke-width="1"/><rect x="986" y="120.0" width="4" height="9.0" fill="#2a960f"/>
<path d="M992.5 120.0V128.0" stroke="#cc0000" stroke-width="1"/><rect x="991" y="120.0" width="4" height="4.0" fill="#cc0000"/>
<path d="M997.5 126.0V136.0" stroke="#2a960f" stroke-width="1"/><rect x="996" y="129.0" width="4" height="4.0" fill="#2a960f"/>
<path d="M1002.5 126.0V168.0" stroke="#cc0000" stroke-width="1"/><rect x="1001" y="126.0" width="4" height="26.0" fill="#cc0000"/>
<path d="M1007.5 128.0V178.0" stroke="#cc0000" stroke-width="1"/><rect x="1006" y="152.0" width="4" height="20.0" fill="#cc0000"/>
<path d="M1012.5 178.0V199.0" stroke="#cc0000" stroke-width="1"/><rect x="1011" y="178.0" width="4" height="9.0" fill="#cc0000"/>
<path d="M1017.5 210.0V266.0" stroke="#cc0000" stroke-width="1"/><rect x="1016" y="210.0" width="4" height="39.0" fill="#cc0000"/>
<path d="M1022.5 220.0V248.0" stroke="#2a960f" stroke-width="1"/><rect x="1021" y="222.0" width="4" height="16.0" fill="#2a960f"/>
<path d="M1027.5 216.0V262.0" stroke="#2a960f" stroke-width="1"/><rect x="1026" y="220.0" width="4" height="20.0" fill="#2a960f"/>
<path d="M1032.5 182.0V213.0" stroke="#2a960f" stroke-width="1"/><rect x="1031" y="182.0" width="4" height="31.0" fill="#2a960f"/>
<path d="M1037.5 186.0V210.0" stroke="#cc0000" stroke-width="1"/><rect x="1036" y="187.0" width="4" height="10.0" fill="#cc0000"/>
<path d="M1042.5 204.0V228.0" stroke="#cc0000" stroke-width="1"/><rect x="1041" y="204.0" width="4" height="18.0" fill="#cc0000"/>
<path d="M1047.5 179.0V226.0" stroke="#2a960f" stroke-width="1"/><rect x="1046" y="190.0" width="4" height="34.0" fill="#2a960f"/>
<path d="M1052.5 213.0V253.0" stroke="#cc0000" stroke-width="1"/><rect x="1051" y="213.0" width="4" height="39.0" fill="#cc0000"/>
<path d="M1057.5 240.0V262.0" stroke="#2a960f" stroke-width="1"/><rect x="1056" y="246.0" width="4" height="2.0" fill="#2a960f"/>
<path d="M1062.5 215.0V235.0" stroke="#2a960f" stroke-width="1"/><rect x="1061" y="217.0" width="4" height="18.0" fill="#2a960f"/>
<path d="M1067.5 187.0V200.0" stroke="#2a960f" stroke-width="1"/><rect x="1066" y="192.0" width="4" height="8.0" fill="#2a960f"/>
<path d="M1072.5 192.0V210.0" stroke="#cc0000" stroke-width="1"/><rect x="1071" y="196.0" width="4" height="14.0" fill="#cc0000"/>
<path d="M1077.5 190.0V196.0" stroke="#2a960f" stroke-width="1"/><rect x="1076" y="192.0" width="4" height="2.0" fill="#2a960f"/>
<path d="M1082.5 181.0V206.0" stroke="#cc0000" stroke-width="1"/><rect x="1081" y="186.0" width="4" height="8.0" fill="#cc0000"/>
<path d="M1087.5 191.0V256.0" stroke="#cc0000" stroke-width="1"/><rect x="1086" y="201.0" width="4" height="47.0" fill="#cc0000"/>
<path d="M1092.5 224.0V240.0" stroke="#2a960f" stroke-width="1"/><rect x="1091" y="224.0" width="4" height="10.0" fill="#2a960f"/>
<path d="M1097.5 211.0V237.0" stroke="#cc0000" stroke-width="1"/><rect x="1096" y="214.0" width="4" height="18.0" fill="#cc0000"/>
<path d="M1102.5 217.0V244.0" stroke="#2a960f" stroke-width="1"/><rect x="1101" y="218.0" width="4" height="20.0" fill="#2a960f"/>
<path d="M1107.5 187.0V206.0" stroke="#2a960f" stroke-width="1"/><rect x="1106" y="192.0" width="4" height="11.0" fill="#2a960f"/>
<path d="M1112.5 180.0V201.0" stroke="#cc0000" stroke-width="1"/><rect x="1111" y="183.0" width="4" height="8.0" fill="#cc0000"/>
<path d="M1117.5 200.0V216.0" stroke="#cc0000" stroke-width="1"/><rect x="1116" y="203.0" width="4" height="3.0" fill="#cc0000"/>
<path d="M1122.5 182.0V195.0" stroke="#2a960f" stroke-width="1"/><rect x="1121" y="182.0" width="4" height="11.0" fill="#2a960f"/>
<path d="M1127.5 148.0V167.0" stroke="#2a960f" stroke-width="1"/><rect x="1126" y="155.0" width="4" height="12.0" fill="#2a960f"/>
<path d="M1132.5 149.0V158.0" stroke="#cc0000" stroke-width="1"/><rect x="1131" y="152.0" width="4" height="2.0" fill="#cc0000"/>
<path d="M1137.5 145.0V160.0" stroke="#cc0000" stroke-width="1"/><rect x="1136" y="146.0" width="4" height="8.0" fill="#cc0000"/>
<path d="M1142.5 153.0V169.0" stroke="#2a960f" stroke-width="1"/><rect x="1141" y="153.0" width="4" height="7.0" fill="#2a960f"/>
<path d="M1147.5 137.0V155.0" stroke="#2a960f" stroke-width="1"/><rect x="1146" y="137.0" width="4" height="15.0" fill="#2a960f"/>
<path d="M1152.5 123.0V138.0" stroke="#2a960f" stroke-width="1"/><rect x="1151" y="131.0" width="4" height="1.0" fill="#2a960f"/>
<path d="M1157.5 126.0V136.0" stroke="#cc0000" stroke-width="1"/><rect x="1156" y="129.0" width="4" height="5.0" fill="#cc0000"/>
<path d="M1163.5 136.0V145.0" stroke="#2a960f" stroke-width="1"/><rect x="1162" y="139.0" width="4" height="2.0" fill="#2a960f"/>
<path d="M1168.5 134.0V143.0" stroke="#2a960f" stroke-width="1"/><rect x="1167" y="134.0" width="4" height="8.0" fill="#2a960f"/>
<path d="M1173.5 133.0V153.0" stroke="#2a960f" stroke-width="1"/><rect x="1172" y="133.0" width="4" height="5.0" fill="#2a960f"/>
<path d="M1178.5 122.0V136.0" stroke="#cc0000" stroke-width="1"/><rect x="1177" y="131.0" width="4" height="3.0" fill="#cc0000"/>
<path d="M1183.5 126.0V149.0" stroke="#cc0000" stroke-width="1"/><rect x="1182" y="132.0" width="4" height="13.0" fill="#cc0000"/>
<path d="M1188.5 140.0V151.0" stroke="#2a960f" stroke-width="1"/><rect x="1187" y="144.0" width="4" height="7.0" fill="#2a960f"/>
<path d="M1193.5 132.0V168.0" stroke="#cc0000" stroke-width="1"/><rect x="1192" y="135.0" width="4" height="28.0" fill="#cc0000"/>
<path d="M1198.5 146.0V172.0" stroke="#2a960f" stroke-width="1"/><rect x="1197" y="149.0" width="4" height="12.0" fill="#2a960f"/>
<path d="M1203.5 148.0V164.0" stroke="#cc0000" stroke-width="1"/><rect x="1202" y="148.0" width="4" height="7.0" fill="#cc0000"/>
<path d="M1208.5 148.0V178.0" stroke="#cc0000" stroke-width="1"/><rect x="1207" y="148.0" width="4" height="18.0" fill="#cc0000"/>
<path d="M1213.5 149.0V162.0" stroke="#2a960f" stroke-width="1"/><rect x="1212" y="154.0" width="4" height="8.0" fill="#2a960f"/>
<path d="M1218.5 144.0V182.0" stroke="#cc0000" stroke-width="1"/><rect x="1217" y="150.0" width="4" height="31.0" fill="#cc0000"/>
<path d="M1223.5 191.0V227.0" stroke="#cc0000" stroke-width="1"/><rect x="1222" y="191.0" width="4" height="28.0" fill="#cc0000"/>
<path d="M1228.5 202.0V240.0" stroke="#2a960f" stroke-width="1"/><rect x="1227" y="202.0" width="4" height="18.0" fill="#2a960f"/>
<path d="M1233.5 172.0V197.0" stroke="#2a960f" stroke-width="1"/><rect x="1232" y="172.0" width="4" height="25.0" fill="#2a960f"/>
<path d="M1238.5 167.0V184.0" stroke="#cc0000" stroke-width="1"/><rect x="1237" y="178.0" width="4" height="3.0" fill="#cc0000"/>
<path d="M1243.5 191.0V215.0" stroke="#cc0000" stroke-width="1"/><rect x="1242" y="195.0" width="4" height="20.0" fill="#cc0000"/>
<path d="M1248.5 188.0V204.0" stroke="#2a960f" stroke-width="1"/><rect x="1247" y="195.0" width="4" height="7.0" fill="#2a960f"/>
<path d="M1253.5 175.0V197.0" stroke="#2a960f" stroke-width="1"/><rect x="1252" y="182.0" width="4" height="15.0" fill="#2a960f"/>
<path d="M1258.5 143.0V164.0" stroke="#2a960f" stroke-width="1"/><rect x="1257" y="159.0" width="4" height="5.0" fill="#2a960f"/>
<path d="M1263.5 157.0V164.0" stroke="#2a960f" stroke-width="1"/><rect x="1262" y="162.0" width="4" height="1.0" fill="#2a960f"/>
</g>
<g shape-rendering="geometricPrecision" fill="none" stroke-width="1.15" stroke-linejoin="round">
<polyline points="9.5,304.4 14.5,304.0 19.5,303.6 24.5,303.3 29.5,303.1 34.5,303.0 39.5,303.0 44.5,303.1 49.5,303.4 54.5,303.7 59.5,304.0 64.5,304.4 69.5,304.8 74.5,305.1 79.5,305.5 84.5,305.8 89.5,306.2 94.5,306.6 99.5,307.0 104.5,307.4 109.5,307.9 114.5,308.3 119.5,308.5 124.5,308.5 129.5,308.5 134.5,308.5 139.5,308.5 144.5,308.5 149.5,308.5 154.5,308.4 159.5,308.3 165.5,308.0 170.5,307.8 175.5,307.8 180.5,307.8 185.5,307.9 190.5,308.0 195.5,308.1 200.5,308.3 205.5,308.5 210.5,308.8 215.5,309.1 220.5,309.6 225.5,310.1 230.5,310.7 235.5,311.5 240.5,312.5 245.5,313.5 250.5,314.6 255.5,315.8 260.5,317.2 265.5,318.5 270.5,319.6 275.5,320.5 280.5,321.4 285.5,322.0 290.5,322.3 295.5,322.3 300.5,322.4 305.5,322.4 310.5,322.5 315.5,322.5 320.5,322.5 325.5,322.5 330.5,322.5 335.5,322.5 340.5,322.5 345.5,322.5 350.5,322.4 355.5,322.4 360.5,322.4 365.5,322.3 370.5,322.3 375.5,322.2 380.5,322.1 385.5,321.9 390.5,321.6 395.5,321.3 400.5,321.0 405.5,320.7 410.5,320.4 415.5,320.1 420.5,319.8 425.5,319.5 430.5,319.1 435.5,318.6 440.5,318.2 445.5,317.8 450.5,317.5 455.5,317.3 460.5,317.1 465.5,316.9 470.5,316.8 475.5,316.7 480.5,316.5 485.5,316.3 490.5,316.1 496.5,315.9 501.5,315.7 506.5,315.5 511.5,315.3 516.5,315.0 521.5,314.8 526.5,314.5 531.5,314.1 536.5,313.8 541.5,313.4 546.5,313.0 551.5,312.7 556.5,312.4 561.5,312.2 566.5,311.9 571.5,311.7 576.5,311.4 581.5,311.2 586.5,310.9 591.5,310.5 596.5,310.2 601.5,309.8 606.5,309.4 611.5,308.9 616.5,308.4 621.5,307.9 626.5,307.4 631.5,306.8 636.5,306.2 641.5,305.5 646.5,304.8 651.5,304.2 656.5,303.6 661.5,303.1 666.5,302.6 671.5,302.1 676.5,301.6 681.5,301.1 686.5,300.6 691.5,300.0 696.5,299.5 701.5,299.0 706.5,298.6 711.5,298.3 716.5,298.0 721.5,297.7 726.5,297.5 731.5,297.5 736.5,297.5 741.5,297.5 746.5,297.5 751.5,297.5 756.5,297.5 761.5,297.5 766.5,297.5 771.5,297.5 776.5,297.5 781.5,297.5 786.5,297.9 791.5,298.2 796.5,298.3 801.5,298.4 806.5,298.4 811.5,298.4 816.5,298.5 821.5,298.5 827.5,298.5 832.5,298.5 837.5,298.5 842.5,298.5 847.5,298.4 852.5,298.4 857.5,298.3 862.5,298.2 867.5,298.1 872.5,298.0 877.5,297.8 882.5,297.5 887.5,297.2 892.5,297.0 897.5,296.8 902.5,296.5 907.5,296.2 912.5,296.0 917.5,295.7 922.5,295.4 927.5,295.1 932.5,294.8 937.5,294.5 942.5,294.2 947.5,293.9 952.5,293.6 957.5,293.3 962.5,292.9 967.5,292.6 972.5,292.2 977.5,291.8 982.5,291.3 987.5,290.7 992.5,290.1 997.5,289.6 1002.5,289.0 1007.5,288.5 1012.5,288.0 1017.5,287.6 1022.5,287.2 1027.5,286.7 1032.5,286.2 1037.5,285.8 1042.5,285.2 1047.5,284.6 1052.5,284.0 1057.5,283.4 1062.5,282.8 1067.5,282.2 1072.5,281.6 1077.5,280.9 1082.5,280.3 1087.5,279.8 1092.5,279.2 1097.5,278.6 1102.5,277.9 1107.5,277.3 1112.5,276.6 1117.5,275.9 1122.5,275.1 1127.5,274.3 1132.5,273.5 1137.5,272.5 1142.5,271.3 1147.5,270.0 1152.5,268.6 1157.5,267.4 1163.5,266.1 1168.5,265.1 1173.5,264.1 1178.5,263.1 1183.5,262.1 1188.5,261.0 1193.5,260.1 1198.5,259.1 1203.5,258.2 1208.5,257.2 1213.5,256.1 1218.5,254.9 1223.5,253.6 1228.5,252.2 1233.5,250.7 1238.5,249.2 1243.5,247.8 1248.5,246.2 1253.5,244.6 1258.5,242.8 1263.5,240.8" stroke="#3a3a3a" stroke-width="1.1"/>
<polyline points="9.5,227.6 14.5,228.0 19.5,228.7 24.5,229.5 29.5,230.5 34.5,231.7 39.5,233.1 44.5,235.1 49.5,237.3 54.5,239.7 59.5,242.3 64.5,244.9 69.5,247.3 74.5,249.2 79.5,251.0 84.5,252.7 89.5,254.5 94.5,256.3 99.5,258.1 104.5,260.1 109.5,262.1 114.5,264.1 119.5,266.2 124.5,268.5 129.5,271.0 134.5,274.0 139.5,277.7 144.5,281.4 149.5,284.7 154.5,287.5 159.5,290.1 165.5,292.9 170.5,295.2 175.5,297.2 180.5,299.1 185.5,301.5 190.5,304.8 195.5,308.8 200.5,312.9 205.5,317.0 210.5,321.3 215.5,325.7 220.5,330.5 225.5,335.8 230.5,341.4 235.5,346.8 240.5,351.9 245.5,357.0 250.5,361.7 255.5,366.1 260.5,370.3 265.5,374.3 270.5,378.4 275.5,382.9 280.5,387.4 285.5,391.0 290.5,393.1 295.5,394.6 300.5,395.8 305.5,396.9 310.5,398.2 315.5,399.7 320.5,401.4 325.5,403.2 330.5,405.1 335.5,406.8 340.5,408.5 345.5,410.3 350.5,411.9 355.5,413.3 360.5,414.3 365.5,415.3 370.5,416.0 375.5,416.2 380.5,416.2 385.5,416.2 390.5,415.2 395.5,413.5 400.5,412.5 405.5,412.1 410.5,411.9 415.5,411.7 420.5,411.5 425.5,411.2 430.5,410.8 435.5,410.2 440.5,409.4 445.5,408.0 450.5,406.0 455.5,403.5 460.5,401.0 465.5,398.5 470.5,395.9 475.5,393.0 480.5,389.6 485.5,385.4 490.5,380.6 496.5,375.1 501.5,370.4 506.5,365.8 511.5,361.1 516.5,356.3 521.5,351.4 526.5,346.8 531.5,342.5 536.5,338.5 541.5,334.8 546.5,331.2 551.5,327.8 556.5,324.7 561.5,321.7 566.5,318.8 571.5,315.8 576.5,312.8 581.5,309.5 586.5,306.0 591.5,302.4 596.5,298.7 601.5,295.0 606.5,291.4 611.5,287.9 616.5,284.3 621.5,281.0 626.5,277.8 631.5,274.9 636.5,272.1 641.5,269.5 646.5,266.9 651.5,264.3 656.5,261.7 661.5,259.2 666.5,256.7 671.5,254.2 676.5,251.8 681.5,249.5 686.5,247.3 691.5,245.1 696.5,243.1 701.5,241.6 706.5,240.4 711.5,239.4 716.5,238.4 721.5,237.6 726.5,236.9 731.5,236.1 736.5,235.2 741.5,233.7 746.5,231.6 751.5,230.1 756.5,228.9 761.5,228.3 766.5,228.3 771.5,228.3 776.5,228.4 781.5,228.6 786.5,229.8 791.5,231.4 796.5,232.5 801.5,232.4 806.5,232.0 811.5,231.6 816.5,231.1 821.5,230.6 827.5,229.9 832.5,229.2 837.5,228.6 842.5,228.0 847.5,227.5 852.5,227.0 857.5,226.5 862.5,226.0 867.5,225.5 872.5,225.1 877.5,224.7 882.5,224.3 887.5,223.8 892.5,223.2 897.5,222.3 902.5,221.3 907.5,220.6 912.5,219.9 917.5,219.3 922.5,218.6 927.5,217.9 932.5,217.0 937.5,216.0 942.5,215.0 947.5,213.8 952.5,212.5 957.5,211.1 962.5,209.6 967.5,208.0 972.5,206.0 977.5,203.5 982.5,200.9 987.5,198.8 992.5,197.0 997.5,195.4 1002.5,193.9 1007.5,192.5 1012.5,191.2 1017.5,190.0 1022.5,188.8 1027.5,187.5 1032.5,185.8 1037.5,183.5 1042.5,181.2 1047.5,179.5 1052.5,178.5 1057.5,177.7 1062.5,177.0 1067.5,176.4 1072.5,175.7 1077.5,175.3 1082.5,175.0 1087.5,175.2 1092.5,175.9 1097.5,176.7 1102.5,177.2 1107.5,177.6 1112.5,177.9 1117.5,178.2 1122.5,178.2 1127.5,177.8 1132.5,176.9 1137.5,175.9 1142.5,175.2 1147.5,174.7 1152.5,174.3 1157.5,173.9 1163.5,173.4 1168.5,173.0 1173.5,172.7 1178.5,172.5 1183.5,172.8 1188.5,173.4 1193.5,173.8 1198.5,174.0 1203.5,174.1 1208.5,174.2 1213.5,174.4 1218.5,175.2 1223.5,177.0 1228.5,178.4 1233.5,179.7 1238.5,181.0 1243.5,182.8 1248.5,184.2 1253.5,184.2 1258.5,184.2 1263.5,183.3" stroke="#1c4a9c" stroke-width="1.35"/>
<polyline points="9.5,250.2 14.5,258.2 19.5,266.5 24.5,276.0 29.5,284.3 34.5,293.5 39.5,303.2 44.5,312.5 49.5,314.0 54.5,321.7 59.5,329.6 64.5,338.7 69.5,345.5 74.5,347.4 79.5,350.7 84.5,351.8 89.5,350.8 94.5,339.4 99.5,332.2 104.5,323.5 109.5,317.5 114.5,314.7 119.5,315.5 124.5,316.2 129.5,315.2 134.5,318.7 139.5,326.9 144.5,338.7 149.5,351.2 154.5,358.8 159.5,361.9 165.5,360.2 170.5,357.7 175.5,355.6 180.5,351.7 185.5,350.9 190.5,347.0 195.5,348.2 200.5,347.8 205.5,350.5 210.5,352.7 215.5,359.4 220.5,369.3 225.5,384.6 230.5,402.0 235.5,415.9 240.5,432.2 245.5,447.6 250.5,468.0 255.5,480.1 260.5,491.6 265.5,503.3 270.5,509.8 275.5,512.4 280.5,519.4 285.5,517.6 290.5,511.6 295.5,500.4 300.5,483.6 305.5,474.4 310.5,466.7 315.5,459.7 320.5,452.3 325.5,444.7 330.5,431.2 335.5,421.2 340.5,415.4 345.5,410.9 350.5,406.8 355.5,402.0 360.5,398.7 365.5,394.6 370.5,389.7 375.5,383.4 380.5,378.4 385.5,374.7 390.5,367.2 395.5,360.7 400.5,356.2 405.5,353.1 410.5,348.4 415.5,341.0 420.5,335.9 425.5,332.9 430.5,328.0 435.5,324.1 440.5,320.7 445.5,317.6 450.5,311.3 455.5,305.0 460.5,299.0 465.5,295.6 470.5,293.3 475.5,289.3 480.5,288.0 485.5,287.3 490.5,288.4 496.5,290.3 501.5,293.9 506.5,294.7 511.5,294.8 516.5,293.4 521.5,291.8 526.5,290.4 531.5,287.5 536.5,284.5 541.5,280.7 546.5,273.0 551.5,269.0 556.5,267.9 561.5,266.0 566.5,266.4 571.5,265.8 576.5,265.0 581.5,262.5 586.5,260.0 591.5,256.5 596.5,254.8 601.5,248.2 606.5,241.3 611.5,237.2 616.5,231.3 621.5,226.1 626.5,220.9 631.5,218.2 636.5,215.3 641.5,213.4 646.5,211.6 651.5,210.4 656.5,207.7 661.5,204.2 666.5,201.6 671.5,198.0 676.5,195.4 681.5,192.4 686.5,191.2 691.5,190.0 696.5,187.1 701.5,185.4 706.5,188.9 711.5,192.3 716.5,196.2 721.5,200.2 726.5,209.8 731.5,217.8 736.5,223.0 741.5,225.9 746.5,232.0 751.5,238.7 756.5,240.0 761.5,241.5 766.5,245.0 771.5,249.1 776.5,249.8 781.5,253.5 786.5,257.9 791.5,266.7 796.5,275.0 801.5,277.5 806.5,280.4 811.5,281.3 816.5,277.7 821.5,273.3 827.5,267.2 832.5,260.4 837.5,253.0 842.5,243.3 847.5,232.9 852.5,224.8 857.5,217.6 862.5,209.7 867.5,204.3 872.5,200.2 877.5,198.0 882.5,195.6 887.5,193.2 892.5,189.4 897.5,184.1 902.5,180.2 907.5,175.3 912.5,172.8 917.5,170.9 922.5,168.4 927.5,162.9 932.5,156.7 937.5,150.4 942.5,145.3 947.5,142.6 952.5,141.8 957.5,141.7 962.5,142.7 967.5,142.1 972.5,140.4 977.5,138.4 982.5,138.3 987.5,137.5 992.5,137.0 997.5,136.2 1002.5,136.5 1007.5,139.6 1012.5,142.7 1017.5,152.7 1022.5,161.4 1027.5,171.0 1032.5,175.6 1037.5,183.2 1042.5,193.1 1047.5,199.2 1052.5,209.2 1057.5,216.6 1062.5,219.7 1067.5,214.0 1072.5,212.8 1077.5,210.0 1082.5,211.2 1087.5,216.4 1092.5,216.6 1097.5,220.8 1102.5,217.4 1107.5,211.9 1112.5,209.3 1117.5,210.7 1122.5,207.9 1127.5,204.2 1132.5,200.3 1137.5,190.9 1142.5,183.7 1147.5,174.3 1152.5,165.6 1157.5,159.8 1163.5,154.6 1168.5,147.4 1173.5,142.5 1178.5,140.4 1183.5,139.5 1188.5,138.5 1193.5,139.4 1198.5,140.6 1203.5,143.0 1208.5,146.2 1213.5,147.7 1218.5,152.4 1223.5,161.0 1228.5,167.7 1233.5,170.5 1238.5,174.2 1243.5,179.4 1248.5,184.0 1253.5,186.7 1258.5,186.0 1263.5,186.8" stroke="#4a9c20"/>
</g>
<!-- MACD -->
<g>
<rect x="7" y="777.5" width="3" height="36.0" fill="#ff0000"/>
<rect x="12" y="777.5" width="3" height="28.1" fill="#7a0000"/>
<rect x="17" y="777.5" width="3" height="21.7" fill="#7a0000"/>
<rect x="22" y="777.5" width="3" height="20.8" fill="#7a0000"/>
<rect x="27" y="777.5" width="3" height="18.9" fill="#7a0000"/>
<rect x="32" y="777.5" width="3" height="17.8" fill="#7a0000"/>
<rect x="37" y="777.5" width="3" height="17.2" fill="#7a0000"/>
<rect x="42" y="777.5" width="3" height="25.2" fill="#ff0000"/>
<rect x="47" y="777.5" width="3" height="22.7" fill="#7a0000"/>
<rect x="52" y="777.5" width="3" height="24.9" fill="#ff0000"/>
<rect x="57" y="777.5" width="3" height="26.2" fill="#ff0000"/>
<rect x="62" y="777.5" width="3" height="20.4" fill="#7a0000"/>
<rect x="67" y="777.5" width="3" height="11.7" fill="#7a0000"/>
<rect x="72" y="777.5" width="3" height="1.8" fill="#7a0000"/>
<rect x="77" y="774.3" width="3" height="3.2" fill="#12f812"/>
<rect x="82" y="768.7" width="3" height="8.8" fill="#12f812"/>
<rect x="87" y="763.2" width="3" height="14.3" fill="#12f812"/>
<rect x="92" y="753.2" width="3" height="24.3" fill="#12f812"/>
<rect x="97" y="748.3" width="3" height="29.2" fill="#12f812"/>
<rect x="102" y="749.4" width="3" height="28.1" fill="#066406"/>
<rect x="107" y="757.2" width="3" height="20.3" fill="#066406"/>
<rect x="112" y="763.2" width="3" height="14.3" fill="#066406"/>
<rect x="117" y="769.5" width="3" height="8.0" fill="#066406"/>
<rect x="122" y="770.3" width="3" height="7.2" fill="#066406"/>
<rect x="127" y="770.2" width="3" height="7.3" fill="#12f812"/>
<rect x="132" y="775.3" width="3" height="2.2" fill="#066406"/>
<rect x="137" y="777.5" width="3" height="6.2" fill="#ff0000"/>
<rect x="142" y="777.5" width="3" height="9.9" fill="#ff0000"/>
<rect x="147" y="777.5" width="3" height="13.3" fill="#ff0000"/>
<rect x="152" y="777.5" width="3" height="9.6" fill="#7a0000"/>
<rect x="157" y="777.5" width="3" height="5.5" fill="#7a0000"/>
<rect x="163" y="772.7" width="3" height="4.8" fill="#12f812"/>
<rect x="168" y="766.9" width="3" height="10.6" fill="#12f812"/>
<rect x="173" y="760.8" width="3" height="16.7" fill="#12f812"/>
<rect x="178" y="754.2" width="3" height="23.3" fill="#12f812"/>
<rect x="183" y="760.9" width="3" height="16.6" fill="#066406"/>
<rect x="188" y="766.2" width="3" height="11.3" fill="#066406"/>
<rect x="198" y="777.5" width="3" height="5.5" fill="#ff0000"/>
<rect x="203" y="777.5" width="3" height="8.8" fill="#ff0000"/>
<rect x="208" y="777.5" width="3" height="8.6" fill="#7a0000"/>
<rect x="213" y="777.5" width="3" height="7.8" fill="#7a0000"/>
<rect x="218" y="777.5" width="3" height="12.3" fill="#ff0000"/>
<rect x="223" y="777.5" width="3" height="20.0" fill="#ff0000"/>
<rect x="228" y="777.5" width="3" height="23.4" fill="#ff0000"/>
<rect x="233" y="777.5" width="3" height="28.2" fill="#ff0000"/>
<rect x="238" y="777.5" width="3" height="33.6" fill="#ff0000"/>
<rect x="243" y="777.5" width="3" height="40.4" fill="#ff0000"/>
<rect x="248" y="777.5" width="3" height="49.2" fill="#ff0000"/>
<rect x="253" y="777.5" width="3" height="38.2" fill="#7a0000"/>
<rect x="258" y="777.5" width="3" height="26.1" fill="#7a0000"/>
<rect x="263" y="777.5" width="3" height="16.7" fill="#7a0000"/>
<rect x="268" y="777.5" width="3" height="6.4" fill="#7a0000"/>
<rect x="273" y="775.9" width="3" height="1.6" fill="#12f812"/>
<rect x="278" y="777.0" width="3" height="0.5" fill="#066406"/>
<rect x="283" y="767.1" width="3" height="10.4" fill="#12f812"/>
<rect x="288" y="758.5" width="3" height="19.0" fill="#12f812"/>
<rect x="293" y="750.6" width="3" height="26.9" fill="#12f812"/>
<rect x="298" y="744.9" width="3" height="32.6" fill="#12f812"/>
<rect x="303" y="741.0" width="3" height="36.5" fill="#12f812"/>
<rect x="308" y="739.8" width="3" height="37.7" fill="#12f812"/>
<rect x="313" y="741.9" width="3" height="35.6" fill="#066406"/>
<rect x="318" y="741.4" width="3" height="36.1" fill="#12f812"/>
<rect x="323" y="742.0" width="3" height="35.5" fill="#066406"/>
<rect x="328" y="741.6" width="3" height="35.9" fill="#12f812"/>
<rect x="333" y="739.1" width="3" height="38.4" fill="#12f812"/>
<rect x="338" y="743.6" width="3" height="33.9" fill="#066406"/>
<rect x="343" y="747.6" width="3" height="29.9" fill="#066406"/>
<rect x="348" y="751.0" width="3" height="26.5" fill="#066406"/>
<rect x="353" y="752.2" width="3" height="25.3" fill="#066406"/>
<rect x="358" y="756.6" width="3" height="20.9" fill="#066406"/>
<rect x="363" y="761.0" width="3" height="16.5" fill="#066406"/>
<rect x="368" y="760.2" width="3" height="17.3" fill="#12f812"/>
<rect x="373" y="758.2" width="3" height="19.3" fill="#12f812"/>
<rect x="378" y="757.9" width="3" height="19.6" fill="#12f812"/>
<rect x="383" y="757.1" width="3" height="20.4" fill="#12f812"/>
<rect x="388" y="756.5" width="3" height="21.0" fill="#12f812"/>
<rect x="393" y="758.4" width="3" height="19.1" fill="#066406"/>
<rect x="398" y="763.8" width="3" height="13.7" fill="#066406"/>
<rect x="403" y="768.1" width="3" height="9.4" fill="#066406"/>
<rect x="408" y="771.5" width="3" height="6.0" fill="#066406"/>
<rect x="413" y="770.7" width="3" height="6.8" fill="#12f812"/>
<rect x="418" y="769.9" width="3" height="7.6" fill="#12f812"/>
<rect x="423" y="771.2" width="3" height="6.3" fill="#066406"/>
<rect x="428" y="769.6" width="3" height="7.9" fill="#12f812"/>
<rect x="433" y="769.1" width="3" height="8.4" fill="#12f812"/>
<rect x="438" y="769.2" width="3" height="8.3" fill="#066406"/>
<rect x="443" y="771.4" width="3" height="6.1" fill="#066406"/>
<rect x="448" y="771.6" width="3" height="5.9" fill="#066406"/>
<rect x="453" y="772.4" width="3" height="5.1" fill="#066406"/>
<rect x="458" y="774.0" width="3" height="3.5" fill="#066406"/>
<rect x="463" y="776.0" width="3" height="1.5" fill="#066406"/>
<rect x="468" y="777.5" width="3" height="1.4" fill="#ff0000"/>
<rect x="473" y="777.5" width="3" height="1.6" fill="#ff0000"/>
<rect x="478" y="777.5" width="3" height="3.5" fill="#ff0000"/>
<rect x="483" y="777.5" width="3" height="5.5" fill="#ff0000"/>
<rect x="488" y="777.5" width="3" height="9.2" fill="#ff0000"/>
<rect x="494" y="777.5" width="3" height="14.1" fill="#ff0000"/>
<rect x="499" y="777.5" width="3" height="17.5" fill="#ff0000"/>
<rect x="504" y="777.5" width="3" height="14.7" fill="#7a0000"/>
<rect x="509" y="777.5" width="3" height="11.8" fill="#7a0000"/>
<rect x="514" y="777.5" width="3" height="7.5" fill="#7a0000"/>
<rect x="519" y="777.5" width="3" height="5.4" fill="#7a0000"/>
<rect x="524" y="777.5" width="3" height="2.5" fill="#7a0000"/>
<rect x="534" y="776.3" width="3" height="1.2" fill="#12f812"/>
<rect x="544" y="774.4" width="3" height="3.1" fill="#12f812"/>
<rect x="549" y="777.5" width="3" height="2.0" fill="#ff0000"/>
<rect x="554" y="777.5" width="3" height="5.7" fill="#ff0000"/>
<rect x="559" y="777.5" width="3" height="5.7" fill="#ff0000"/>
<rect x="564" y="777.5" width="3" height="7.4" fill="#ff0000"/>
<rect x="569" y="777.5" width="3" height="7.4" fill="#7a0000"/>
<rect x="574" y="777.5" width="3" height="5.3" fill="#7a0000"/>
<rect x="584" y="775.1" width="3" height="2.4" fill="#12f812"/>
<rect x="589" y="773.3" width="3" height="4.2" fill="#12f812"/>
<rect x="594" y="772.0" width="3" height="5.5" fill="#12f812"/>
<rect x="599" y="770.4" width="3" height="7.1" fill="#12f812"/>
<rect x="604" y="769.7" width="3" height="7.8" fill="#12f812"/>
<rect x="609" y="772.3" width="3" height="5.2" fill="#066406"/>
<rect x="614" y="773.2" width="3" height="4.3" fill="#066406"/>
<rect x="619" y="774.6" width="3" height="2.9" fill="#066406"/>
<rect x="624" y="773.9" width="3" height="3.6" fill="#12f812"/>
<rect x="629" y="774.3" width="3" height="3.2" fill="#066406"/>
<rect x="634" y="775.1" width="3" height="2.4" fill="#066406"/>
<rect x="639" y="777.0" width="3" height="0.5" fill="#066406"/>
<rect x="644" y="777.5" width="3" height="0.5" fill="#ff0000"/>
<rect x="649" y="777.5" width="3" height="1.2" fill="#ff0000"/>
<rect x="654" y="776.7" width="3" height="0.8" fill="#12f812"/>
<rect x="659" y="776.9" width="3" height="0.6" fill="#066406"/>
<rect x="669" y="776.8" width="3" height="0.7" fill="#12f812"/>
<rect x="674" y="776.4" width="3" height="1.1" fill="#12f812"/>
<rect x="679" y="776.3" width="3" height="1.2" fill="#12f812"/>
<rect x="684" y="777.5" width="3" height="1.9" fill="#ff0000"/>
<rect x="689" y="777.5" width="3" height="5.1" fill="#ff0000"/>
<rect x="694" y="777.5" width="3" height="4.0" fill="#7a0000"/>
<rect x="699" y="777.5" width="3" height="4.9" fill="#ff0000"/>
<rect x="704" y="777.5" width="3" height="11.1" fill="#ff0000"/>
<rect x="709" y="777.5" width="3" height="15.5" fill="#ff0000"/>
<rect x="714" y="777.5" width="3" height="18.6" fill="#ff0000"/>
<rect x="719" y="777.5" width="3" height="18.7" fill="#ff0000"/>
<rect x="724" y="777.5" width="3" height="26.0" fill="#ff0000"/>
<rect x="729" y="777.5" width="3" height="26.9" fill="#ff0000"/>
<rect x="734" y="777.5" width="3" height="24.3" fill="#7a0000"/>
<rect x="739" y="777.5" width="3" height="18.7" fill="#7a0000"/>
<rect x="744" y="777.5" width="3" height="16.2" fill="#7a0000"/>
<rect x="749" y="777.5" width="3" height="16.0" fill="#7a0000"/>
<rect x="754" y="777.5" width="3" height="12.1" fill="#7a0000"/>
<rect x="759" y="777.5" width="3" height="10.0" fill="#7a0000"/>
<rect x="764" y="777.5" width="3" height="12.0" fill="#ff0000"/>
<rect x="769" y="777.5" width="3" height="12.2" fill="#ff0000"/>
<rect x="774" y="777.5" width="3" height="14.3" fill="#ff0000"/>
<rect x="779" y="777.5" width="3" height="16.8" fill="#ff0000"/>
<rect x="784" y="777.5" width="3" height="16.5" fill="#7a0000"/>
<rect x="789" y="777.5" width="3" height="19.4" fill="#ff0000"/>
<rect x="794" y="777.5" width="3" height="20.9" fill="#ff0000"/>
<rect x="799" y="777.5" width="3" height="13.7" fill="#7a0000"/>
<rect x="804" y="777.5" width="3" height="5.7" fill="#7a0000"/>
<rect x="809" y="775.5" width="3" height="2.0" fill="#12f812"/>
<rect x="814" y="767.2" width="3" height="10.3" fill="#12f812"/>
<rect x="819" y="760.7" width="3" height="16.8" fill="#12f812"/>
<rect x="825" y="757.4" width="3" height="20.1" fill="#12f812"/>
<rect x="830" y="756.7" width="3" height="20.8" fill="#12f812"/>
<rect x="835" y="755.9" width="3" height="21.6" fill="#12f812"/>
<rect x="840" y="756.8" width="3" height="20.7" fill="#066406"/>
<rect x="845" y="758.1" width="3" height="19.4" fill="#066406"/>
<rect x="850" y="756.7" width="3" height="20.8" fill="#12f812"/>
<rect x="855" y="756.0" width="3" height="21.5" fill="#12f812"/>
<rect x="860" y="753.7" width="3" height="23.8" fill="#12f812"/>
<rect x="865" y="754.1" width="3" height="23.4" fill="#066406"/>
<rect x="870" y="756.3" width="3" height="21.2" fill="#066406"/>
<rect x="875" y="762.2" width="3" height="15.3" fill="#066406"/>
<rect x="880" y="767.2" width="3" height="10.3" fill="#066406"/>
<rect x="885" y="769.8" width="3" height="7.7" fill="#066406"/>
<rect x="890" y="770.2" width="3" height="7.3" fill="#066406"/>
<rect x="895" y="768.7" width="3" height="8.8" fill="#12f812"/>
<rect x="900" y="767.6" width="3" height="9.9" fill="#12f812"/>
<rect x="905" y="765.2" width="3" height="12.3" fill="#12f812"/>
<rect x="910" y="765.4" width="3" height="12.1" fill="#066406"/>
<rect x="915" y="768.1" width="3" height="9.4" fill="#066406"/>
<rect x="920" y="770.1" width="3" height="7.4" fill="#066406"/>
<rect x="925" y="770.9" width="3" height="6.6" fill="#066406"/>
<rect x="930" y="771.3" width="3" height="6.2" fill="#066406"/>
<rect x="935" y="770.9" width="3" height="6.6" fill="#12f812"/>
<rect x="940" y="771.4" width="3" height="6.1" fill="#066406"/>
<rect x="945" y="773.7" width="3" height="3.8" fill="#066406"/>
<rect x="950" y="777.5" width="3" height="0.6" fill="#ff0000"/>
<rect x="955" y="777.5" width="3" height="2.3" fill="#ff0000"/>
<rect x="960" y="777.5" width="3" height="6.1" fill="#ff0000"/>
<rect x="965" y="777.5" width="3" height="7.7" fill="#ff0000"/>
<rect x="970" y="777.5" width="3" height="6.4" fill="#7a0000"/>
<rect x="975" y="777.5" width="3" height="4.1" fill="#7a0000"/>
<rect x="980" y="777.5" width="3" height="4.8" fill="#ff0000"/>
<rect x="985" y="777.5" width="3" height="2.8" fill="#7a0000"/>
<rect x="990" y="777.5" width="3" height="2.4" fill="#7a0000"/>
<rect x="995" y="777.5" width="3" height="3.3" fill="#ff0000"/>
<rect x="1000" y="777.5" width="3" height="7.7" fill="#ff0000"/>
<rect x="1005" y="777.5" width="3" height="13.5" fill="#ff0000"/>
<rect x="1010" y="777.5" width="3" height="19.2" fill="#ff0000"/>
<rect x="1015" y="777.5" width="3" height="31.7" fill="#ff0000"/>
<rect x="1020" y="777.5" width="3" height="34.0" fill="#ff0000"/>
<rect x="1025" y="777.5" width="3" height="33.4" fill="#7a0000"/>
<rect x="1030" y="777.5" width="3" height="25.6" fill="#7a0000"/>
<rect x="1035" y="777.5" width="3" height="21.6" fill="#7a0000"/>
<rect x="1040" y="777.5" width="3" height="21.9" fill="#ff0000"/>
<rect x="1045" y="777.5" width="3" height="15.8" fill="#7a0000"/>
<rect x="1050" y="777.5" width="3" height="20.9" fill="#ff0000"/>
<rect x="1055" y="777.5" width="3" height="21.8" fill="#ff0000"/>
<rect x="1060" y="777.5" width="3" height="16.6" fill="#7a0000"/>
<rect x="1065" y="777.5" width="3" height="8.2" fill="#7a0000"/>
<rect x="1070" y="777.5" width="3" height="5.1" fill="#7a0000"/>
<rect x="1080" y="774.0" width="3" height="3.5" fill="#12f812"/>
<rect x="1085" y="777.5" width="3" height="2.8" fill="#ff0000"/>
<rect x="1090" y="777.5" width="3" height="2.7" fill="#7a0000"/>
<rect x="1095" y="777.5" width="3" height="3.3" fill="#ff0000"/>
<rect x="1100" y="777.5" width="3" height="1.1" fill="#7a0000"/>
<rect x="1105" y="772.8" width="3" height="4.7" fill="#12f812"/>
<rect x="1110" y="769.0" width="3" height="8.5" fill="#12f812"/>
<rect x="1115" y="769.1" width="3" height="8.4" fill="#066406"/>
<rect x="1120" y="765.7" width="3" height="11.8" fill="#12f812"/>
<rect x="1125" y="759.7" width="3" height="17.8" fill="#12f812"/>
<rect x="1130" y="756.6" width="3" height="20.9" fill="#12f812"/>
<rect x="1135" y="755.6" width="3" height="21.9" fill="#12f812"/>
<rect x="1140" y="755.9" width="3" height="21.6" fill="#066406"/>
<rect x="1145" y="754.7" width="3" height="22.8" fill="#12f812"/>
<rect x="1150" y="754.2" width="3" height="23.3" fill="#12f812"/>
<rect x="1155" y="755.7" width="3" height="21.8" fill="#066406"/>
<rect x="1161" y="758.7" width="3" height="18.8" fill="#066406"/>
<rect x="1166" y="760.9" width="3" height="16.6" fill="#066406"/>
<rect x="1171" y="763.2" width="3" height="14.3" fill="#066406"/>
<rect x="1176" y="765.9" width="3" height="11.6" fill="#066406"/>
<rect x="1181" y="770.1" width="3" height="7.4" fill="#066406"/>
<rect x="1186" y="773.3" width="3" height="4.2" fill="#066406"/>
<rect x="1191" y="777.5" width="3" height="1.2" fill="#ff0000"/>
<rect x="1196" y="777.5" width="3" height="2.7" fill="#ff0000"/>
<rect x="1201" y="777.5" width="3" height="4.8" fill="#ff0000"/>
<rect x="1206" y="777.5" width="3" height="7.7" fill="#ff0000"/>
<rect x="1211" y="777.5" width="3" height="7.6" fill="#7a0000"/>
<rect x="1216" y="777.5" width="3" height="11.6" fill="#ff0000"/>
<rect x="1221" y="777.5" width="3" height="19.7" fill="#ff0000"/>
<rect x="1226" y="777.5" width="3" height="21.2" fill="#ff0000"/>
<rect x="1231" y="777.5" width="3" height="16.5" fill="#7a0000"/>
<rect x="1236" y="777.5" width="3" height="14.2" fill="#7a0000"/>
<rect x="1241" y="777.5" width="3" height="17.3" fill="#ff0000"/>
<rect x="1246" y="777.5" width="3" height="15.3" fill="#7a0000"/>
<rect x="1251" y="777.5" width="3" height="11.2" fill="#7a0000"/>
<rect x="1256" y="777.5" width="3" height="4.3" fill="#7a0000"/>
</g>
<g shape-rendering="geometricPrecision">
<ellipse cx="1272.5" cy="781.5" rx="36" ry="44.3" fill="none" stroke="#b5e61d" stroke-width="4.8"/>
</g>
<path d="M5 777.5H1810" stroke="#7a1fa2" stroke-width="1.4"/>
<g shape-rendering="geometricPrecision">
<clipPath id="uph"><rect x="1230" y="730" width="90" height="48"/></clipPath>
<ellipse cx="1272.5" cy="781.5" rx="37" ry="45.3" fill="#b5e61d" clip-path="url(#uph)"/>
</g>
<g shape-rendering="geometricPrecision" fill="none" stroke-width="1.2" stroke-linejoin="round">
<polyline points="9.5,791.6 14.5,798.6 19.5,804.1 24.5,809.3 29.5,814.0 34.5,818.4 39.5,822.7 44.5,829.0 49.5,834.7 54.5,840.9 59.5,847.5 64.5,852.6 69.5,855.5 74.5,856.0 79.5,855.2 84.5,853.0 89.5,849.4 94.5,843.3 99.5,836.0 104.5,829.0 109.5,824.0 114.5,820.4 119.5,818.4 124.5,816.6 129.5,814.7 134.5,814.2 139.5,815.8 144.5,818.2 149.5,821.6 154.5,824.0 159.5,825.3 165.5,824.1 170.5,821.5 175.5,817.3 180.5,811.5 185.5,807.3 190.5,804.5 195.5,804.4 200.5,805.8 205.5,808.0 210.5,810.2 215.5,812.1 220.5,815.2 225.5,820.2 230.5,826.0 235.5,833.1 240.5,841.5 245.5,851.6 250.5,863.9 255.5,873.4 260.5,880.0 265.5,884.1 270.5,885.7 275.5,885.3 280.5,885.2 285.5,882.6 290.5,877.9 295.5,871.1 300.5,863.0 305.5,853.9 310.5,844.4 315.5,835.5 320.5,826.5 325.5,817.6 330.5,808.7 335.5,799.1 340.5,790.6 345.5,783.1 350.5,776.5 355.5,770.2 360.5,764.9 365.5,760.8 370.5,756.5 375.5,751.7 380.5,746.8 385.5,741.7 390.5,736.4 395.5,731.6 400.5,728.2 405.5,725.8 410.5,724.3 415.5,722.6 420.5,720.7 425.5,719.2 430.5,717.2 435.5,715.1 440.5,713.0 445.5,711.5 450.5,710.0 455.5,708.7 460.5,707.9 465.5,707.5 470.5,707.8 475.5,708.2 480.5,709.1 485.5,710.5 490.5,712.8 496.5,716.3 501.5,720.7 506.5,724.4 511.5,727.3 516.5,729.2 521.5,730.6 526.5,731.2 531.5,731.2 536.5,730.9 541.5,730.8 546.5,730.0 551.5,730.5 556.5,731.9 561.5,733.3 566.5,735.2 571.5,737.1 576.5,738.4 581.5,738.4 586.5,737.8 591.5,736.8 596.5,735.4 601.5,733.6 606.5,731.7 611.5,730.4 616.5,729.3 621.5,728.6 626.5,727.7 631.5,726.9 636.5,726.2 641.5,726.1 646.5,726.2 651.5,726.5 656.5,726.3 661.5,726.2 666.5,726.2 671.5,726.0 676.5,725.7 681.5,725.4 686.5,725.9 691.5,727.2 696.5,728.2 701.5,729.4 706.5,732.2 711.5,736.1 716.5,740.7 721.5,745.4 726.5,751.9 731.5,758.6 736.5,764.7 741.5,769.4 746.5,773.4 751.5,777.4 756.5,780.5 761.5,783.0 766.5,786.0 771.5,789.0 776.5,792.6 781.5,796.8 786.5,800.9 791.5,805.8 796.5,811.0 801.5,814.4 806.5,815.9 811.5,815.4 816.5,812.8 821.5,808.6 827.5,803.5 832.5,798.4 837.5,792.9 842.5,787.8 847.5,782.9 852.5,777.7 857.5,772.4 862.5,766.4 867.5,760.6 872.5,755.3 877.5,751.4 882.5,748.9 887.5,746.9 892.5,745.1 897.5,742.9 902.5,740.5 907.5,737.4 912.5,734.3 917.5,732.0 922.5,730.2 927.5,728.5 932.5,727.0 937.5,725.3 942.5,723.8 947.5,722.8 952.5,723.0 957.5,723.6 962.5,725.1 967.5,727.0 972.5,728.6 977.5,729.6 982.5,730.8 987.5,731.5 992.5,732.1 997.5,732.9 1002.5,734.9 1007.5,738.3 1012.5,743.1 1017.5,751.0 1022.5,759.5 1027.5,767.8 1032.5,774.2 1037.5,779.6 1042.5,785.1 1047.5,789.0 1052.5,794.3 1057.5,799.7 1062.5,803.9 1067.5,805.9 1072.5,807.2 1077.5,807.1 1082.5,806.2 1087.5,806.9 1092.5,807.6 1097.5,808.4 1102.5,808.7 1107.5,807.5 1112.5,805.4 1117.5,803.3 1122.5,800.4 1127.5,795.9 1132.5,790.7 1137.5,785.2 1142.5,779.9 1147.5,774.2 1152.5,768.3 1157.5,762.9 1163.5,758.2 1168.5,754.0 1173.5,750.5 1178.5,747.6 1183.5,745.7 1188.5,744.7 1193.5,745.0 1198.5,745.7 1203.5,746.8 1208.5,748.8 1213.5,750.7 1218.5,753.6 1223.5,758.5 1228.5,763.8 1233.5,767.9 1238.5,771.5 1243.5,775.8 1248.5,779.6 1253.5,782.4 1258.5,783.5 1263.5,783.6" stroke="#b03030"/>
<polyline points="9.5,827.7 14.5,826.7 19.5,825.8 24.5,830.1 29.5,832.9 34.5,836.2 39.5,840.0 44.5,854.3 49.5,857.5 54.5,865.8 59.5,873.7 64.5,873.0 69.5,867.3 74.5,857.8 79.5,851.9 84.5,844.2 89.5,835.1 94.5,819.0 99.5,806.9 104.5,801.0 109.5,803.7 114.5,806.1 119.5,810.4 124.5,809.4 129.5,807.4 134.5,812.0 139.5,822.0 144.5,828.2 149.5,834.8 154.5,833.5 159.5,830.8 165.5,819.3 170.5,810.8 175.5,800.6 180.5,788.2 185.5,790.8 190.5,793.2 195.5,804.0 200.5,811.3 205.5,816.9 210.5,818.8 215.5,819.9 220.5,827.4 225.5,840.2 230.5,849.4 235.5,861.3 240.5,875.1 245.5,892.0 250.5,913.0 255.5,911.7 260.5,906.1 265.5,900.8 270.5,892.1 275.5,883.7 280.5,884.7 285.5,872.2 290.5,858.9 295.5,844.2 300.5,830.4 305.5,817.4 310.5,806.7 315.5,800.0 320.5,790.5 325.5,782.2 330.5,772.8 335.5,760.7 340.5,756.7 345.5,753.2 350.5,750.0 355.5,744.8 360.5,744.0 365.5,744.3 370.5,739.1 375.5,732.4 380.5,727.2 385.5,721.2 390.5,715.4 395.5,712.5 400.5,714.5 405.5,716.4 410.5,718.4 415.5,715.8 420.5,713.2 425.5,712.9 430.5,709.3 435.5,706.7 440.5,704.6 445.5,705.4 450.5,704.1 455.5,703.7 460.5,704.4 465.5,706.0 470.5,709.2 475.5,709.8 480.5,712.6 485.5,716.0 490.5,722.0 496.5,730.4 501.5,738.3 506.5,739.1 511.5,739.1 516.5,736.8 521.5,736.0 526.5,733.7 531.5,731.1 536.5,729.7 541.5,730.3 546.5,726.9 551.5,732.5 556.5,737.6 561.5,739.0 566.5,742.6 571.5,744.5 576.5,743.6 581.5,738.7 586.5,735.4 591.5,732.5 596.5,729.9 601.5,726.5 606.5,723.9 611.5,725.2 616.5,725.0 621.5,725.6 626.5,724.0 631.5,723.6 636.5,723.8 641.5,725.6 646.5,726.7 651.5,727.8 656.5,725.6 661.5,725.6 666.5,726.1 671.5,725.4 676.5,724.6 681.5,724.3 686.5,727.8 691.5,732.3 696.5,732.2 701.5,734.3 706.5,743.3 711.5,751.5 716.5,759.3 721.5,764.0 726.5,777.9 731.5,785.5 736.5,789.0 741.5,788.1 746.5,789.6 751.5,793.5 756.5,792.6 761.5,793.0 766.5,797.9 771.5,801.2 776.5,806.9 781.5,813.5 786.5,817.4 791.5,825.2 796.5,831.9 801.5,828.1 806.5,821.6 811.5,813.4 816.5,802.4 821.5,791.7 827.5,783.4 832.5,777.6 837.5,771.3 842.5,767.0 847.5,763.5 852.5,757.0 857.5,750.8 862.5,742.6 867.5,737.2 872.5,734.1 877.5,736.1 882.5,738.5 887.5,739.2 892.5,737.9 897.5,734.2 902.5,730.6 907.5,725.1 912.5,722.2 917.5,722.6 922.5,722.8 927.5,721.9 932.5,720.8 937.5,718.6 942.5,717.7 947.5,719.1 952.5,723.5 957.5,725.9 962.5,731.2 967.5,734.7 972.5,735.0 977.5,733.7 982.5,735.6 987.5,734.3 992.5,734.6 997.5,736.2 1002.5,742.6 1007.5,751.8 1012.5,762.2 1017.5,782.7 1022.5,793.4 1027.5,801.3 1032.5,799.8 1037.5,801.2 1042.5,806.9 1047.5,804.9 1052.5,815.1 1057.5,821.5 1062.5,820.4 1067.5,814.1 1072.5,812.2 1077.5,806.9 1082.5,802.8 1087.5,809.8 1092.5,810.3 1097.5,811.8 1102.5,809.8 1107.5,802.9 1112.5,796.9 1117.5,795.0 1122.5,788.6 1127.5,778.2 1132.5,769.9 1137.5,763.4 1142.5,758.3 1147.5,751.4 1152.5,745.0 1157.5,741.1 1163.5,739.3 1168.5,737.4 1173.5,736.2 1178.5,736.0 1183.5,738.3 1188.5,740.4 1193.5,746.2 1198.5,748.4 1203.5,751.6 1208.5,756.5 1213.5,758.3 1218.5,765.2 1223.5,778.2 1228.5,785.0 1233.5,784.4 1238.5,785.6 1243.5,793.1 1248.5,794.9 1253.5,793.6 1258.5,787.8 1263.5,783.8" stroke="#3a3a3a"/>
</g>
</svg>

<div class="ax" style="left:72px;top:924px">Nov</div>
<div class="ax" style="left:177px;top:924px">Dec</div>
<div class="ax" style="left:272px;top:924px">19</div>
<div class="ax" style="left:378px;top:924px">Feb</div>
<div class="ax" style="left:473px;top:924px">Mar</div>
<div class="ax" style="left:578px;top:924px">Apr</div>
<div class="ax" style="left:684px;top:924px">May</div>
<div class="ax" style="left:794px;top:924px">Jun</div>
<div class="ax" style="left:894px;top:924px">Jul</div>
<div class="ax" style="left:1005px;top:924px">Aug</div>
<div class="ax" style="left:1115px;top:924px">Sep</div>
<div class="ax" style="left:1216px;top:924px">Oct</div>
<div class="ax" style="left:1331px;top:924px">Nov</div>
<div class="ax" style="left:1431px;top:924px">Dec</div>
<div class="ax" style="left:1537px;top:924px">20</div>
<div class="ax" style="left:1642px;top:924px">Feb</div>
<div class="ax" style="left:1737px;top:924px">Mar</div>
<div class="ax" style="left:1813px;top:58.6px">3100</div>
<div class="ax" style="left:1813px;top:129.6px">3000</div>
<div class="ax" style="left:1813px;top:200.6px">2900</div>
<div class="ax" style="left:1813px;top:271.6px">2800</div>
<div class="ax" style="left:1813px;top:342.6px">2700</div>
<div class="ax" style="left:1813px;top:414.6px">2600</div>
<div class="ax" style="left:1813px;top:485.6px">2500</div>
<div class="ax" style="left:1813px;top:556.6px">2400</div>
<div class="ax" style="left:1813px;top:627.6px">2300</div>
<div class="ax" style="left:1813px;top:698.6px">40</div>
<div class="ax" style="left:1813px;top:733.6px">20</div>
<div class="ax" style="left:1813px;top:803.6px">-20</div>
<div class="ax" style="left:1813px;top:838.6px">-40</div>
<div class="ax" style="left:1813px;top:872.6px">-60</div>
<div class="ax" style="left:1813px;top:907.6px">-80</div>

<!-- axis icon -->
<svg class="abs" style="left:1816px;top:35px" width="24" height="24" viewBox="0 0 24 24"><path d="M2 2.6H22M2 20.6H22" stroke="#222" stroke-width="2.3" stroke-linecap="round"/><path d="M1.3 13.3C3 16.5 4.5 17.5 6.5 16.8C10 15.5 13 7 17 6C19.5 5.3 21 7 22 9" fill="none" stroke="#222" stroke-width="1.5"/></svg>

<!-- badges -->
<div class="badge" style="top:153px;width:59px;background:#242424">2966.15</div>
<div class="badge" style="top:173.5px;width:59px;background:#1440a4">2936.36</div>
<div class="badge" style="top:230.5px;width:59px;background:#242424">2855.89</div>
<div class="badge" style="top:773px;width:56px;background:#242424">-3.8171</div>

<!-- callouts -->
<div class="callout" style="left:982px;top:86.1px;width:87px">Hi: 3027.98</div>
<div class="callout" style="left:250px;top:611px;width:89px">Lo: 2346.58</div>
<svg class="abs" style="left:0;top:0" width="1920" height="972"><path d="M991.6 110.2L987.2 118.8L995.3 110.2" fill="#dcdcdc" stroke="#989898" stroke-width="1"/><path d="M259 611.8L254.5 602.8L263.4 611.8" fill="#dcdcdc" stroke="#989898" stroke-width="1"/></svg>

<div id="note" class="abs"></div>
<!-- logo -->
<div class="abs" style="left:1439px;top:168px;width:248px;height:98px;background:#fff"></div>
<div class="abs" style="left:1444px;top:171px;width:236px;height:92px;border:3px solid #050505"></div>
<div class="abs" style="left:1450px;top:176px;width:224px;height:81px;border:1px solid #0a0a0a"></div>
<svg class="abs" style="left:1545px;top:186px" width="44" height="26" viewBox="1545 186 44 26"><g fill="none" stroke="#6cac3c" stroke-width="1"><path d="M1550.5 208V197.5H1554.5V207M1554.5 204.5V194.5H1558.5V204M1558.5 201.5V191.5H1562.5V201.5H1558.5M1562.5 192V189.5"/></g><g fill="none" stroke="#b84040" stroke-width="1"><path d="M1569.5 189.5V201.5H1573M1569.5 191H1573V204H1577.5M1573 193.5H1577.5V207H1582M1577.5 196.5H1582V209"/></g></svg>
<div class="abs" id="lg1" style="left:1458.5px;top:210px;font-family:'Liberation Serif',serif;font-weight:bold;font-size:16.6px;line-height:20px;color:#1c1c1c;white-space:nowrap;transform-origin:0 50%;transform:scaleX(1.572);letter-spacing:.55px">Fitzstock Charts</div>
<div class="abs" style="left:1499px;top:228.3px;width:117.5px;height:1.6px;background:#111"></div>
<div class="abs" id="lg2" style="left:1490px;top:235px;font-weight:bold;font-size:11.5px;line-height:14px;color:#0c0c2a;white-space:nowrap;transform-origin:0 50%;transform:scaleX(1.243);letter-spacing:.3px">www.fitzstock.com</div>

<!-- note -->
<div class="nl" id="n1" style="transform:scaleX(1.1176);top:274px">The SPX closed in a 3 day</div>
<div class="nl" id="n2" style="transform:scaleX(1.1157);top:301px">internal <span style="color:#22b14c">UPTREND</span>,with bullish</div>
<div class="nl" id="n3" style="transform:scaleX(1.097);top:328px">MACD.</div>
<div class="nl" id="n5" style="transform:scaleX(1.076);top:382px">We remain in a trading range,</div>
<div class="nl" id="n6" style="transform:scaleX(1.079);top:409px">with earnings season starting</div>
<div class="nl" id="n7" style="transform:scaleX(1.11);top:435.5px">tomorrow.&nbsp;&nbsp; Stay long vs your</div>
<div class="nl" id="n8" style="transform:scaleX(1.098);top:463px">stops, but wait for &gt;3000 before</div>
<div class="nl" id="n9" style="transform:scaleX(1.092);top:490px">becoming aggressive.</div>

<!-- bottom -->
<div id="bottom" class="abs"></div>
<div id="scroll" class="abs"></div>
<div class="abs" style="left:2px;top:947px;width:18px;height:18px;background:#e2e4e2"></div>
<div class="abs" style="left:1555px;top:947px;width:36px;height:18px;background:#e0e2e0"></div>
<svg class="abs" style="left:0;top:942px" width="1920" height="28" viewBox="0 942 1920 28">
<path d="M12.3 952.4V959.6L7.9 956Z" fill="#555"/>
<path d="M1565 952.4V959.6L1560.8 956Z" fill="#777"/><path d="M1580 952.4V959.6L1584.2 956Z" fill="#777"/>
<path d="M1601 948.5V960.5L1594 954.5ZM1607 948.5V960.5L1614 954.5Z" fill="#222"/><path d="M1602.5 950.5V958.5M1604.2 950.5V958.5M1605.9 950.5V958.5" stroke="#222" stroke-width="1"/>
<g fill="none" stroke="#222" stroke-width="1.6"><circle cx="1630.4" cy="956.3" r="6"/><path d="M1630.4 948V965M1622 956.3H1639"/></g>
<g fill="none" stroke="#222" stroke-width="1.8"><circle cx="1657.7" cy="953.6" r="8"/><path d="M1663.5 959.5L1669.5 965" stroke-width="2.4"/><path d="M1653.7 953.6H1661.7M1657.7 949.6V957.6" stroke-width="1.4"/></g>
<g fill="none" stroke="#b4b4b4" stroke-width="1.8"><circle cx="1685" cy="953.2" r="8"/><path d="M1691 959L1697 964.5" stroke-width="2.4"/><path d="M1681 953H1689" stroke-width="1.4"/></g>
<g transform="translate(1703,945) scale(1.0)"><path d="M6.4 10.5V3Q6.4 1.3 7.95 1.3Q9.5 1.3 9.5 3V9.6M9.5 6.4Q10.6 6 11.2 7.2L11.5 10.4M11.4 8.6Q12.8 8 13.8 9L14.5 11.4M14.4 10.6Q15.8 9.9 17 11Q17.8 11.8 17.8 13Q17.8 16 15.6 18.6L14.8 20.4H5L4.4 18.8Q2 15.5 1.9 12Q1.9 9.8 3.4 9.6Q4.6 9.5 4.9 11L5.3 12.6Q6.2 11.8 6.4 10.5" fill="none" stroke="#222" stroke-width="1.4" stroke-linejoin="round"/></g>
</svg>
<div class="abs" style="left:1743px;top:947px;font-size:14.67px;line-height:20px;color:#222;white-space:nowrap">Drawing set: Default</div>
<div class="tri" style="left:1880.3px;top:960.2px;border-left-width:4.6px;border-bottom-width:4.6px"></div>

<!-- sidebar -->
<div id="sidebar" class="abs"></div>
<div class="tab" style="top:33px;height:66.5px"><span>Trade</span></div>
<div class="tab" style="top:99.5px;height:140.5px"><span>Times And Sales</span></div>
<div class="tab" style="top:240px;height:116px"><span>Active Trader</span></div>
<div class="tab" style="top:356px;height:102.5px"><span>Big Buttons</span></div>
<div class="tab" style="top:458.5px;height:64.5px"><span>Chart</span></div>
<div class="abs" style="left:1890px;top:459.5px;width:26px;height:62.5px;background:#f5f5f5"></div>
<div class="tab" style="top:458.5px;height:64.5px;border:none"><span>Chart</span></div>
<div class="tab" style="top:523px;height:120px"><span>Phase Scores</span></div>
<div class="tab" style="top:643px;height:101.5px"><span>Dashboard</span></div>
<div class="tab" style="top:744.5px;height:74.5px"><span>Level II</span></div>
<div class="tab" style="top:819px;height:96px"><span>Live News</span></div>
</body></html>
